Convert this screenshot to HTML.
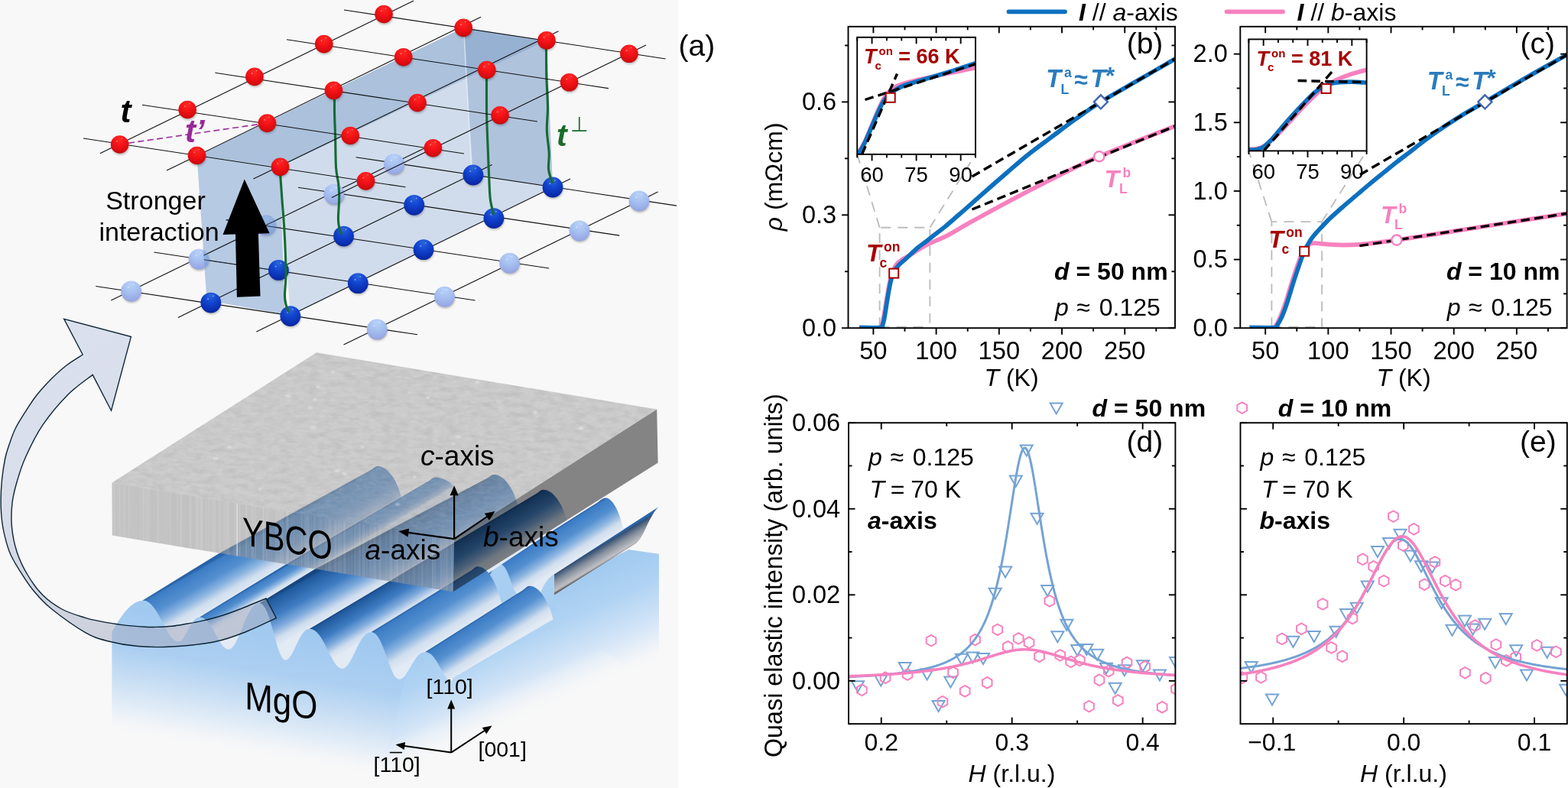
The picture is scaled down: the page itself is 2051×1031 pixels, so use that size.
<!DOCTYPE html>
<html lang="en"><head><meta charset="utf-8"><title>Figure</title>
<style>
html,body{margin:0;padding:0;background:#fff;}
body{width:2051px;height:1031px;overflow:hidden;}
svg{display:block;}
</style></head>
<body>
<svg width="2051" height="1031" viewBox="0 0 2051 1031">
<rect x="0" y="0" width="2051" height="1031" fill="#ffffff"/>
<rect x="0" y="0" width="887" height="1031" fill="#f8f8f8"/>
<defs><radialGradient id="gRed" cx="0.5" cy="0.28" r="0.8" fx="0.48" fy="0.2">
<stop offset="0" stop-color="#ff2a26"/><stop offset="0.45" stop-color="#f21216"/><stop offset="0.8" stop-color="#d60a0e"/><stop offset="1" stop-color="#b00509"/></radialGradient>
<radialGradient id="gBlue" cx="0.5" cy="0.25" r="0.85" fx="0.48" fy="0.15">
<stop offset="0" stop-color="#2a66de"/><stop offset="0.4" stop-color="#1244cf"/><stop offset="0.75" stop-color="#0a2eb0"/><stop offset="1" stop-color="#08208a"/></radialGradient>
<radialGradient id="gLBlue" cx="0.5" cy="0.25" r="0.85" fx="0.48" fy="0.15">
<stop offset="0" stop-color="#b9d2fa"/><stop offset="0.45" stop-color="#a6c0f0"/><stop offset="0.8" stop-color="#99aae6"/><stop offset="1" stop-color="#9099da"/></radialGradient>
<filter id="sh" x="-30%" y="-30%" width="160%" height="170%"><feGaussianBlur stdDeviation="1.6"/></filter>
<clipPath id="clipFront"><polygon points="257.5,203.5 366.5,218.3 372.5,411.5 270.5,393"/></clipPath>
</defs>
<g font-family='"Liberation Sans", Arial, sans-serif'>
<polygon points="366.5,218.3 714.9,52.9 723,245 379.8,413.6" fill="#d0dcec" />
<polygon points="257.5,203.5 366.5,218.3 714.9,52.9 606.2,36.4" fill="#abc1dc" />
<polygon points="606.2,36.4 714.9,52.9 723,245 618.9,229" fill="#6f93c0" opacity="0.33"/>
<line x1="607" y1="44.4" x2="616.4" y2="217" stroke="#e6edf6" stroke-width="1.4" opacity="0.8"/>
<line x1="125.3" y1="374.5" x2="546" y2="437.8" stroke="#111" stroke-width="1.1" />
<line x1="201.4" y1="330" x2="621.6" y2="393" stroke="#111" stroke-width="1.1" />
<line x1="295.7" y1="287.6" x2="718.2" y2="351" stroke="#111" stroke-width="1.1" />
<line x1="390" y1="245.2" x2="810.3" y2="308.1" stroke="#111" stroke-width="1.1" />
<line x1="465.6" y1="205.7" x2="885" y2="269.1" stroke="#111" stroke-width="1.1" />
<line x1="145.3" y1="393" x2="557" y2="193" stroke="#111" stroke-width="1.1" />
<line x1="233" y1="415.4" x2="643.6" y2="215.5" stroke="#111" stroke-width="1.1" />
<line x1="335.4" y1="434" x2="746" y2="234" stroke="#111" stroke-width="1.1" />
<line x1="449.5" y1="451" x2="860.6" y2="251.1" stroke="#111" stroke-width="1.1" />
<ellipse cx="172.4" cy="383.2" rx="12.73" ry="12.73" fill="#000" opacity="0.28" filter="url(#sh)"/>
<circle cx="171.6" cy="381" r="13.4" fill="url(#gLBlue)"/>
<circle cx="167.85" cy="376.18" r="0.94" fill="#fff" opacity="0.54"/>
<circle cx="174.55" cy="372.16" r="0.94" fill="#fff" opacity="0.45"/>
<ellipse cx="494" cy="433.1" rx="12.73" ry="12.73" fill="#000" opacity="0.28" filter="url(#sh)"/>
<circle cx="493.2" cy="430.9" r="13.4" fill="url(#gLBlue)"/>
<circle cx="489.45" cy="426.08" r="0.94" fill="#fff" opacity="0.54"/>
<circle cx="496.15" cy="422.06" r="0.94" fill="#fff" opacity="0.45"/>
<ellipse cx="260.9" cy="341.4" rx="12.73" ry="12.73" fill="#000" opacity="0.28" filter="url(#sh)"/>
<circle cx="260.1" cy="339.2" r="13.4" fill="url(#gLBlue)"/>
<circle cx="256.35" cy="334.38" r="0.94" fill="#fff" opacity="0.54"/>
<circle cx="263.05" cy="330.36" r="0.94" fill="#fff" opacity="0.45"/>
<ellipse cx="582.3" cy="390.4" rx="12.73" ry="12.73" fill="#000" opacity="0.28" filter="url(#sh)"/>
<circle cx="581.5" cy="388.2" r="13.4" fill="url(#gLBlue)"/>
<circle cx="577.75" cy="383.38" r="0.94" fill="#fff" opacity="0.54"/>
<circle cx="584.45" cy="379.36" r="0.94" fill="#fff" opacity="0.45"/>
<ellipse cx="348.7" cy="296.9" rx="12.73" ry="12.73" fill="#000" opacity="0.28" filter="url(#sh)"/>
<circle cx="347.9" cy="294.7" r="13.4" fill="url(#gLBlue)"/>
<circle cx="344.15" cy="289.88" r="0.94" fill="#fff" opacity="0.54"/>
<circle cx="350.85" cy="285.86" r="0.94" fill="#fff" opacity="0.45"/>
<ellipse cx="667.4" cy="346.4" rx="12.73" ry="12.73" fill="#000" opacity="0.28" filter="url(#sh)"/>
<circle cx="666.6" cy="344.2" r="13.4" fill="url(#gLBlue)"/>
<circle cx="662.85" cy="339.38" r="0.94" fill="#fff" opacity="0.54"/>
<circle cx="669.55" cy="335.36" r="0.94" fill="#fff" opacity="0.45"/>
<ellipse cx="437.7" cy="256.3" rx="12.73" ry="12.73" fill="#000" opacity="0.28" filter="url(#sh)"/>
<circle cx="436.9" cy="254.1" r="13.4" fill="url(#gLBlue)"/>
<circle cx="433.15" cy="249.28" r="0.94" fill="#fff" opacity="0.54"/>
<circle cx="439.85" cy="245.26" r="0.94" fill="#fff" opacity="0.45"/>
<ellipse cx="758.8" cy="304.2" rx="12.73" ry="12.73" fill="#000" opacity="0.28" filter="url(#sh)"/>
<circle cx="758" cy="302" r="13.4" fill="url(#gLBlue)"/>
<circle cx="754.25" cy="297.18" r="0.94" fill="#fff" opacity="0.54"/>
<circle cx="760.95" cy="293.16" r="0.94" fill="#fff" opacity="0.45"/>
<ellipse cx="516.3" cy="216.8" rx="12.73" ry="12.73" fill="#000" opacity="0.28" filter="url(#sh)"/>
<circle cx="515.5" cy="214.6" r="13.4" fill="url(#gLBlue)"/>
<circle cx="511.75" cy="209.78" r="0.94" fill="#fff" opacity="0.54"/>
<circle cx="518.45" cy="205.76" r="0.94" fill="#fff" opacity="0.45"/>
<ellipse cx="836.8" cy="265.2" rx="12.73" ry="12.73" fill="#000" opacity="0.28" filter="url(#sh)"/>
<circle cx="836" cy="263" r="13.4" fill="url(#gLBlue)"/>
<circle cx="832.25" cy="258.18" r="0.94" fill="#fff" opacity="0.54"/>
<circle cx="838.95" cy="254.16" r="0.94" fill="#fff" opacity="0.45"/>
<polygon points="257.5,203.5 366.5,218.3 372.5,411.5 270.5,393" fill="rgb(118,155,205)" opacity="0.5"/>
<g opacity="0.75" clip-path="url(#clipFront)"><line x1="125.3" y1="374.5" x2="546" y2="437.8" stroke="#111" stroke-width="1.1" />
<line x1="201.4" y1="330" x2="621.6" y2="393" stroke="#111" stroke-width="1.1" />
<line x1="295.7" y1="287.6" x2="718.2" y2="351" stroke="#111" stroke-width="1.1" />
<line x1="390" y1="245.2" x2="810.3" y2="308.1" stroke="#111" stroke-width="1.1" />
<line x1="465.6" y1="205.7" x2="885" y2="269.1" stroke="#111" stroke-width="1.1" />
<line x1="145.3" y1="393" x2="557" y2="193" stroke="#111" stroke-width="1.1" />
<line x1="233" y1="415.4" x2="643.6" y2="215.5" stroke="#111" stroke-width="1.1" />
<line x1="335.4" y1="434" x2="746" y2="234" stroke="#111" stroke-width="1.1" />
<line x1="449.5" y1="451" x2="860.6" y2="251.1" stroke="#111" stroke-width="1.1" /></g>
<ellipse cx="276.6" cy="398.3" rx="12.73" ry="12.73" fill="#000" opacity="0.28" filter="url(#sh)"/>
<circle cx="275.8" cy="396.1" r="13.4" fill="url(#gBlue)"/>
<circle cx="272.05" cy="391.28" r="0.94" fill="#fff" opacity="0.51"/>
<circle cx="278.75" cy="387.26" r="0.94" fill="#fff" opacity="0.42"/>
<ellipse cx="380.6" cy="415.8" rx="12.73" ry="12.73" fill="#000" opacity="0.28" filter="url(#sh)"/>
<circle cx="379.8" cy="413.6" r="13.4" fill="url(#gBlue)"/>
<circle cx="376.05" cy="408.78" r="0.94" fill="#fff" opacity="0.51"/>
<circle cx="382.75" cy="404.76" r="0.94" fill="#fff" opacity="0.42"/>
<ellipse cx="365.2" cy="355.6" rx="12.73" ry="12.73" fill="#000" opacity="0.28" filter="url(#sh)"/>
<circle cx="364.4" cy="353.4" r="13.4" fill="url(#gBlue)"/>
<circle cx="360.65" cy="348.58" r="0.94" fill="#fff" opacity="0.51"/>
<circle cx="367.35" cy="344.56" r="0.94" fill="#fff" opacity="0.42"/>
<ellipse cx="469.1" cy="372.9" rx="12.73" ry="12.73" fill="#000" opacity="0.28" filter="url(#sh)"/>
<circle cx="468.3" cy="370.7" r="13.4" fill="url(#gBlue)"/>
<circle cx="464.55" cy="365.88" r="0.94" fill="#fff" opacity="0.51"/>
<circle cx="471.25" cy="361.86" r="0.94" fill="#fff" opacity="0.42"/>
<ellipse cx="450.3" cy="311.3" rx="12.73" ry="12.73" fill="#000" opacity="0.28" filter="url(#sh)"/>
<circle cx="449.5" cy="309.1" r="13.4" fill="url(#gBlue)"/>
<circle cx="445.75" cy="304.28" r="0.94" fill="#fff" opacity="0.51"/>
<circle cx="452.45" cy="300.26" r="0.94" fill="#fff" opacity="0.42"/>
<ellipse cx="554.8" cy="328.9" rx="12.73" ry="12.73" fill="#000" opacity="0.28" filter="url(#sh)"/>
<circle cx="554" cy="326.7" r="13.4" fill="url(#gBlue)"/>
<circle cx="550.25" cy="321.88" r="0.94" fill="#fff" opacity="0.51"/>
<circle cx="556.95" cy="317.86" r="0.94" fill="#fff" opacity="0.42"/>
<ellipse cx="542.5" cy="270.5" rx="12.73" ry="12.73" fill="#000" opacity="0.28" filter="url(#sh)"/>
<circle cx="541.7" cy="268.3" r="13.4" fill="url(#gBlue)"/>
<circle cx="537.95" cy="263.48" r="0.94" fill="#fff" opacity="0.51"/>
<circle cx="544.65" cy="259.46" r="0.94" fill="#fff" opacity="0.42"/>
<ellipse cx="646.7" cy="287.8" rx="12.73" ry="12.73" fill="#000" opacity="0.28" filter="url(#sh)"/>
<circle cx="645.9" cy="285.6" r="13.4" fill="url(#gBlue)"/>
<circle cx="642.15" cy="280.78" r="0.94" fill="#fff" opacity="0.51"/>
<circle cx="648.85" cy="276.76" r="0.94" fill="#fff" opacity="0.42"/>
<ellipse cx="619.7" cy="231.2" rx="12.73" ry="12.73" fill="#000" opacity="0.28" filter="url(#sh)"/>
<circle cx="618.9" cy="229" r="13.4" fill="url(#gBlue)"/>
<circle cx="615.15" cy="224.18" r="0.94" fill="#fff" opacity="0.51"/>
<circle cx="621.85" cy="220.16" r="0.94" fill="#fff" opacity="0.42"/>
<ellipse cx="723.8" cy="247.2" rx="12.73" ry="12.73" fill="#000" opacity="0.28" filter="url(#sh)"/>
<circle cx="723" cy="245" r="13.4" fill="url(#gBlue)"/>
<circle cx="719.25" cy="240.18" r="0.94" fill="#fff" opacity="0.51"/>
<circle cx="725.95" cy="236.16" r="0.94" fill="#fff" opacity="0.42"/>
<polygon points="319.8,234.5 352.6,305.2 337.9,305.7 340.5,387.4 309.9,388.7 308,306.5 291.5,307" fill="#000" />
<path d="M366.72,229.76 C366.94,232.82 367.59,241.99 368.03,248.1 C368.47,254.21 368.73,258.14 369.34,266.43 C369.95,274.73 371,286.08 371.7,297.86 C372.4,309.65 373.18,326.24 373.53,337.15 C373.88,348.06 373.97,355.05 373.79,363.34 C373.62,371.64 372.44,381.02 372.48,386.91 C372.53,392.81 373.27,395.3 374.05,398.7 C374.84,402.11 376.67,405.9 377.2,407.34" fill="none" stroke="#166b33" stroke-width="3.1" stroke-linecap="round"/>
<path d="M437.5,130 C437.52,133.33 437.42,141.67 437.6,150 C437.78,158.33 438.28,168.45 438.6,180 C438.92,191.55 438.85,209.25 439.53,219.29 C440.21,229.33 441.98,233.69 442.68,240.24 C443.38,246.79 443.77,251.15 443.72,258.58 C443.68,266 442.46,278.44 442.41,284.77 C442.37,291.1 442.81,293.06 443.46,296.55 C444.12,300.05 445.86,304.19 446.34,305.72" fill="none" stroke="#166b33" stroke-width="3.1" stroke-linecap="round"/>
<path d="M636.5,103 C636.52,110.83 636.32,134.67 636.6,150 C636.88,165.33 637.63,180 638.2,195 C638.77,210 639.45,228.83 640,240 C640.55,251.17 640.58,255.33 641.5,262 C642.42,268.67 644.83,277 645.5,280" fill="none" stroke="#166b33" stroke-width="3.1" stroke-linecap="round"/>
<path d="M714.5,64 C714.55,70 714.47,87.33 714.8,100 C715.13,112.67 716.42,128.33 716.5,140 C716.58,151.67 715.02,160 715.3,170 C715.58,180 717.82,191.33 718.2,200 C718.58,208.67 716.88,215.5 717.6,222 C718.32,228.5 721.68,236.17 722.5,239" fill="none" stroke="#166b33" stroke-width="3.1" stroke-linecap="round"/>
<line x1="109" y1="181" x2="530.5" y2="244.8" stroke="#111" stroke-width="1.1" />
<line x1="186" y1="137.2" x2="606.9" y2="201" stroke="#111" stroke-width="1.1" />
<line x1="281.4" y1="95.3" x2="702.8" y2="159" stroke="#111" stroke-width="1.1" />
<line x1="375" y1="51.8" x2="795.9" y2="115.6" stroke="#111" stroke-width="1.1" />
<line x1="450" y1="13" x2="870.6" y2="77" stroke="#111" stroke-width="1.1" />
<line x1="130.8" y1="200.8" x2="541" y2="1" stroke="#111" stroke-width="1.1" />
<line x1="218" y1="223.1" x2="629" y2="22.3" stroke="#111" stroke-width="1.1" />
<line x1="331.5" y1="234" x2="730.5" y2="40.8" stroke="#111" stroke-width="1.1" />
<line x1="434" y1="258.4" x2="845" y2="59.1" stroke="#111" stroke-width="1.1" />
<line x1="168" y1="187.2" x2="340" y2="162.4" stroke="#9a2a9a" stroke-width="1.6" stroke-dasharray="8 4.5"/>
<ellipse cx="157.4" cy="191.2" rx="11.21" ry="11.21" fill="#000" opacity="0.28" filter="url(#sh)"/>
<circle cx="156.6" cy="189" r="11.8" fill="url(#gRed)"/>
<circle cx="153.3" cy="184.75" r="0.83" fill="#fff" opacity="0.51"/>
<circle cx="159.2" cy="181.21" r="0.83" fill="#fff" opacity="0.42"/>
<ellipse cx="258.3" cy="205.7" rx="11.21" ry="11.21" fill="#000" opacity="0.28" filter="url(#sh)"/>
<circle cx="257.5" cy="203.5" r="11.8" fill="url(#gRed)"/>
<circle cx="254.2" cy="199.25" r="0.83" fill="#fff" opacity="0.51"/>
<circle cx="260.1" cy="195.71" r="0.83" fill="#fff" opacity="0.42"/>
<ellipse cx="367.3" cy="220.5" rx="11.21" ry="11.21" fill="#000" opacity="0.28" filter="url(#sh)"/>
<circle cx="366.5" cy="218.3" r="11.8" fill="url(#gRed)"/>
<circle cx="363.2" cy="214.05" r="0.83" fill="#fff" opacity="0.51"/>
<circle cx="369.1" cy="210.51" r="0.83" fill="#fff" opacity="0.42"/>
<ellipse cx="479.3" cy="239.1" rx="11.21" ry="11.21" fill="#000" opacity="0.28" filter="url(#sh)"/>
<circle cx="478.5" cy="236.9" r="11.8" fill="url(#gRed)"/>
<circle cx="475.2" cy="232.65" r="0.83" fill="#fff" opacity="0.51"/>
<circle cx="481.1" cy="229.11" r="0.83" fill="#fff" opacity="0.42"/>
<ellipse cx="246" cy="145.7" rx="11.21" ry="11.21" fill="#000" opacity="0.28" filter="url(#sh)"/>
<circle cx="245.2" cy="143.5" r="11.8" fill="url(#gRed)"/>
<circle cx="241.9" cy="139.25" r="0.83" fill="#fff" opacity="0.51"/>
<circle cx="247.8" cy="135.71" r="0.83" fill="#fff" opacity="0.42"/>
<ellipse cx="350.2" cy="163.3" rx="11.21" ry="11.21" fill="#000" opacity="0.28" filter="url(#sh)"/>
<circle cx="349.4" cy="161.1" r="11.8" fill="url(#gRed)"/>
<circle cx="346.1" cy="156.85" r="0.83" fill="#fff" opacity="0.51"/>
<circle cx="352" cy="153.31" r="0.83" fill="#fff" opacity="0.42"/>
<ellipse cx="459" cy="179.7" rx="11.21" ry="11.21" fill="#000" opacity="0.28" filter="url(#sh)"/>
<circle cx="458.2" cy="177.5" r="11.8" fill="url(#gRed)"/>
<circle cx="454.9" cy="173.25" r="0.83" fill="#fff" opacity="0.51"/>
<circle cx="460.8" cy="169.71" r="0.83" fill="#fff" opacity="0.42"/>
<ellipse cx="567.2" cy="195.9" rx="11.21" ry="11.21" fill="#000" opacity="0.28" filter="url(#sh)"/>
<circle cx="566.4" cy="193.7" r="11.8" fill="url(#gRed)"/>
<circle cx="563.1" cy="189.45" r="0.83" fill="#fff" opacity="0.51"/>
<circle cx="569" cy="185.91" r="0.83" fill="#fff" opacity="0.42"/>
<ellipse cx="333.7" cy="102.6" rx="11.21" ry="11.21" fill="#000" opacity="0.28" filter="url(#sh)"/>
<circle cx="332.9" cy="100.4" r="11.8" fill="url(#gRed)"/>
<circle cx="329.6" cy="96.15" r="0.83" fill="#fff" opacity="0.51"/>
<circle cx="335.5" cy="92.61" r="0.83" fill="#fff" opacity="0.42"/>
<ellipse cx="437.2" cy="120.5" rx="11.21" ry="11.21" fill="#000" opacity="0.28" filter="url(#sh)"/>
<circle cx="436.4" cy="118.3" r="11.8" fill="url(#gRed)"/>
<circle cx="433.1" cy="114.05" r="0.83" fill="#fff" opacity="0.51"/>
<circle cx="439" cy="110.51" r="0.83" fill="#fff" opacity="0.42"/>
<ellipse cx="546.8" cy="136.7" rx="11.21" ry="11.21" fill="#000" opacity="0.28" filter="url(#sh)"/>
<circle cx="546" cy="134.5" r="11.8" fill="url(#gRed)"/>
<circle cx="542.7" cy="130.25" r="0.83" fill="#fff" opacity="0.51"/>
<circle cx="548.6" cy="126.71" r="0.83" fill="#fff" opacity="0.42"/>
<ellipse cx="654.8" cy="153" rx="11.21" ry="11.21" fill="#000" opacity="0.28" filter="url(#sh)"/>
<circle cx="654" cy="150.8" r="11.8" fill="url(#gRed)"/>
<circle cx="650.7" cy="146.55" r="0.83" fill="#fff" opacity="0.51"/>
<circle cx="656.6" cy="143.01" r="0.83" fill="#fff" opacity="0.42"/>
<ellipse cx="424.5" cy="59.8" rx="11.21" ry="11.21" fill="#000" opacity="0.28" filter="url(#sh)"/>
<circle cx="423.7" cy="57.6" r="11.8" fill="url(#gRed)"/>
<circle cx="420.4" cy="53.35" r="0.83" fill="#fff" opacity="0.51"/>
<circle cx="426.3" cy="49.81" r="0.83" fill="#fff" opacity="0.42"/>
<ellipse cx="528.5" cy="76.9" rx="11.21" ry="11.21" fill="#000" opacity="0.28" filter="url(#sh)"/>
<circle cx="527.7" cy="74.7" r="11.8" fill="url(#gRed)"/>
<circle cx="524.4" cy="70.45" r="0.83" fill="#fff" opacity="0.51"/>
<circle cx="530.3" cy="66.91" r="0.83" fill="#fff" opacity="0.42"/>
<ellipse cx="637.6" cy="93.7" rx="11.21" ry="11.21" fill="#000" opacity="0.28" filter="url(#sh)"/>
<circle cx="636.8" cy="91.5" r="11.8" fill="url(#gRed)"/>
<circle cx="633.5" cy="87.25" r="0.83" fill="#fff" opacity="0.51"/>
<circle cx="639.4" cy="83.71" r="0.83" fill="#fff" opacity="0.42"/>
<ellipse cx="745.4" cy="110" rx="11.21" ry="11.21" fill="#000" opacity="0.28" filter="url(#sh)"/>
<circle cx="744.6" cy="107.8" r="11.8" fill="url(#gRed)"/>
<circle cx="741.3" cy="103.55" r="0.83" fill="#fff" opacity="0.51"/>
<circle cx="747.2" cy="100.01" r="0.83" fill="#fff" opacity="0.42"/>
<ellipse cx="502.8" cy="20.7" rx="11.21" ry="11.21" fill="#000" opacity="0.28" filter="url(#sh)"/>
<circle cx="502" cy="18.5" r="11.8" fill="url(#gRed)"/>
<circle cx="498.7" cy="14.25" r="0.83" fill="#fff" opacity="0.51"/>
<circle cx="504.6" cy="10.71" r="0.83" fill="#fff" opacity="0.42"/>
<ellipse cx="607" cy="38.6" rx="11.21" ry="11.21" fill="#000" opacity="0.28" filter="url(#sh)"/>
<circle cx="606.2" cy="36.4" r="11.8" fill="url(#gRed)"/>
<circle cx="602.9" cy="32.15" r="0.83" fill="#fff" opacity="0.51"/>
<circle cx="608.8" cy="28.61" r="0.83" fill="#fff" opacity="0.42"/>
<ellipse cx="715.7" cy="55.1" rx="11.21" ry="11.21" fill="#000" opacity="0.28" filter="url(#sh)"/>
<circle cx="714.9" cy="52.9" r="11.8" fill="url(#gRed)"/>
<circle cx="711.6" cy="48.65" r="0.83" fill="#fff" opacity="0.51"/>
<circle cx="717.5" cy="45.11" r="0.83" fill="#fff" opacity="0.42"/>
<ellipse cx="823.7" cy="72.5" rx="11.21" ry="11.21" fill="#000" opacity="0.28" filter="url(#sh)"/>
<circle cx="822.9" cy="70.3" r="11.8" fill="url(#gRed)"/>
<circle cx="819.6" cy="66.05" r="0.83" fill="#fff" opacity="0.51"/>
<circle cx="825.5" cy="62.51" r="0.83" fill="#fff" opacity="0.42"/>
<text x="157.5" y="160.2" font-size="42" font-weight="bold" font-style="italic">t</text>
<text x="242" y="186.3" font-size="42" font-weight="bold" font-style="italic" fill="#9a2a9a">t’</text>
<text x="728" y="191" font-size="41" font-weight="bold" font-style="italic" fill="#1a6b2b">t</text>
<text x="745.5" y="171.8" font-size="27" fill="#1a6b2b">⊥</text>
<text x="203.5" y="274.4" font-size="34.1" text-anchor="middle">Stronger</text>
<text x="208" y="315" font-size="34.1" text-anchor="middle">interaction</text>
<text x="887.5" y="73" font-size="39">(a)</text>
<defs><linearGradient id="gBody" gradientUnits="userSpaceOnUse" x1="724.9" y1="772" x2="781.88" y2="899.96"><stop offset="0" stop-color="rgb(163,203,240)"/><stop offset="0.3" stop-color="rgb(176,211,243)"/><stop offset="0.65" stop-color="rgb(212,229,247)"/><stop offset="1" stop-color="rgb(248,248,248)" stop-opacity="0"/></linearGradient>
<linearGradient id="gRib" gradientUnits="userSpaceOnUse" x1="790" y1="707" x2="803.5" y2="729.5"><stop offset="0" stop-color="rgb(40,104,176)"/><stop offset="0.1" stop-color="rgb(44,100,168)"/><stop offset="0.17" stop-color="rgb(52,80,116)"/><stop offset="0.5" stop-color="rgb(132,142,156)"/><stop offset="0.88" stop-color="rgb(192,192,196)"/><stop offset="0.95" stop-color="rgb(165,165,168)"/><stop offset="1" stop-color="rgb(100,100,102)"/></linearGradient>
<linearGradient id="gR1" gradientUnits="userSpaceOnUse" x1="654" y1="738" x2="679.08" y2="777.75"><stop offset="0" stop-color="rgb(40,98,168)"/><stop offset="0.05" stop-color="rgb(60,124,196)"/><stop offset="0.38" stop-color="rgb(84,144,208)"/><stop offset="0.6" stop-color="rgb(138,180,224)"/><stop offset="0.8" stop-color="rgb(208,222,238)"/><stop offset="1" stop-color="rgb(226,234,244)"/></linearGradient>
<linearGradient id="gB0" gradientUnits="userSpaceOnUse" x1="186.7" y1="785.4" x2="214.55" y2="834.18"><stop offset="0" stop-color="rgb(40,98,168)"/><stop offset="0.05" stop-color="rgb(60,124,196)"/><stop offset="0.38" stop-color="rgb(84,144,208)"/><stop offset="0.6" stop-color="rgb(138,180,224)"/><stop offset="0.8" stop-color="rgb(208,222,238)"/><stop offset="1" stop-color="rgb(226,234,244)"/></linearGradient>
<linearGradient id="gT0" gradientUnits="userSpaceOnUse" x1="186.7" y1="785.4" x2="214.55" y2="834.18"><stop offset="0" stop-color="rgb(70,110,160)" stop-opacity="0.05"/><stop offset="0.3" stop-color="rgb(80,118,165)" stop-opacity="0.14"/><stop offset="0.6" stop-color="rgb(88,124,170)" stop-opacity="0.36"/><stop offset="0.85" stop-color="rgb(95,130,175)" stop-opacity="0.34"/><stop offset="1" stop-color="rgb(125,150,185)" stop-opacity="0.06"/></linearGradient>
<linearGradient id="gB1" gradientUnits="userSpaceOnUse" x1="261.1" y1="807.6" x2="273.46" y2="828.37"><stop offset="0" stop-color="rgb(40,98,168)"/><stop offset="0.05" stop-color="rgb(60,124,196)"/><stop offset="0.38" stop-color="rgb(84,144,208)"/><stop offset="0.6" stop-color="rgb(138,180,224)"/><stop offset="0.8" stop-color="rgb(208,222,238)"/><stop offset="1" stop-color="rgb(226,234,244)"/></linearGradient>
<linearGradient id="gT1" gradientUnits="userSpaceOnUse" x1="261.1" y1="807.6" x2="273.46" y2="828.37"><stop offset="0" stop-color="rgb(70,110,160)" stop-opacity="0.05"/><stop offset="0.3" stop-color="rgb(80,118,165)" stop-opacity="0.14"/><stop offset="0.6" stop-color="rgb(88,124,170)" stop-opacity="0.36"/><stop offset="0.85" stop-color="rgb(95,130,175)" stop-opacity="0.34"/><stop offset="1" stop-color="rgb(125,150,185)" stop-opacity="0.06"/></linearGradient>
<linearGradient id="gB2" gradientUnits="userSpaceOnUse" x1="339.3" y1="789.2" x2="368.62" y2="842.61"><stop offset="0" stop-color="rgb(22,70,128)"/><stop offset="0.06" stop-color="rgb(33,90,158)"/><stop offset="0.4" stop-color="rgb(62,124,194)"/><stop offset="0.64" stop-color="rgb(126,170,220)"/><stop offset="0.84" stop-color="rgb(206,221,238)"/><stop offset="1" stop-color="rgb(226,234,244)"/></linearGradient>
<linearGradient id="gT2" gradientUnits="userSpaceOnUse" x1="339.3" y1="789.2" x2="368.62" y2="842.61"><stop offset="0" stop-color="rgb(70,110,160)" stop-opacity="0.05"/><stop offset="0.3" stop-color="rgb(80,118,165)" stop-opacity="0.14"/><stop offset="0.6" stop-color="rgb(88,124,170)" stop-opacity="0.36"/><stop offset="0.85" stop-color="rgb(95,130,175)" stop-opacity="0.34"/><stop offset="1" stop-color="rgb(125,150,185)" stop-opacity="0.06"/></linearGradient>
<linearGradient id="gB3" gradientUnits="userSpaceOnUse" x1="404.9" y1="822.7" x2="430.49" y2="865.65"><stop offset="0" stop-color="rgb(22,70,128)"/><stop offset="0.06" stop-color="rgb(33,90,158)"/><stop offset="0.4" stop-color="rgb(62,124,194)"/><stop offset="0.64" stop-color="rgb(126,170,220)"/><stop offset="0.84" stop-color="rgb(206,221,238)"/><stop offset="1" stop-color="rgb(226,234,244)"/></linearGradient>
<linearGradient id="gT3" gradientUnits="userSpaceOnUse" x1="404.9" y1="822.7" x2="430.49" y2="865.65"><stop offset="0" stop-color="rgb(70,110,160)" stop-opacity="0.05"/><stop offset="0.3" stop-color="rgb(80,118,165)" stop-opacity="0.14"/><stop offset="0.6" stop-color="rgb(88,124,170)" stop-opacity="0.36"/><stop offset="0.85" stop-color="rgb(95,130,175)" stop-opacity="0.34"/><stop offset="1" stop-color="rgb(125,150,185)" stop-opacity="0.06"/></linearGradient>
<linearGradient id="gB4" gradientUnits="userSpaceOnUse" x1="485.6" y1="827" x2="516.64" y2="877.38"><stop offset="0" stop-color="rgb(40,98,168)"/><stop offset="0.05" stop-color="rgb(60,124,196)"/><stop offset="0.38" stop-color="rgb(84,144,208)"/><stop offset="0.6" stop-color="rgb(138,180,224)"/><stop offset="0.8" stop-color="rgb(208,222,238)"/><stop offset="1" stop-color="rgb(226,234,244)"/></linearGradient>
<linearGradient id="gB5" gradientUnits="userSpaceOnUse" x1="556.2" y1="853" x2="581.93" y2="893.64"><stop offset="0" stop-color="rgb(40,98,168)"/><stop offset="0.05" stop-color="rgb(60,124,196)"/><stop offset="0.38" stop-color="rgb(84,144,208)"/><stop offset="0.6" stop-color="rgb(138,180,224)"/><stop offset="0.8" stop-color="rgb(208,222,238)"/><stop offset="1" stop-color="rgb(226,234,244)"/></linearGradient>
<linearGradient id="gFront" gradientUnits="userSpaceOnUse" x1="186.7" y1="790" x2="157.8" y2="962.6"><stop offset="0" stop-color="rgb(160,201,240)"/><stop offset="0.35" stop-color="rgb(172,207,241)"/><stop offset="0.57" stop-color="rgb(200,222,244)"/><stop offset="0.86" stop-color="rgb(238,243,249)"/><stop offset="1" stop-color="rgb(248,248,248)" stop-opacity="0"/></linearGradient>
<clipPath id="cSeamL"><polygon points="0,700 575,700 498,1031 0,1031"/></clipPath>
<clipPath id="cSeamR"><polygon points="573.5,700 900,700 900,1031 496.5,1031"/></clipPath>
<filter id="fNoise" x="0" y="0" width="100%" height="100%" color-interpolation-filters="sRGB">
<feTurbulence type="fractalNoise" baseFrequency="0.12 0.3" numOctaves="3" seed="7" result="n"/>
<feColorMatrix in="n" type="matrix" values="0 0 0 0 1  0 0 0 0 1  0 0 0 0 1  1.6 1.6 0 0 -1.25" result="w"/>
<feComposite in="w" in2="SourceGraphic" operator="in"/></filter>
<filter id="fNoiseD" x="0" y="0" width="100%" height="100%" color-interpolation-filters="sRGB">
<feTurbulence type="fractalNoise" baseFrequency="0.06 0.15" numOctaves="3" seed="23" result="n"/>
<feColorMatrix in="n" type="matrix" values="0 0 0 0 0  0 0 0 0 0  0 0 0 0 0  1.5 1.5 0 0 -1.25" result="w"/>
<feComposite in="w" in2="SourceGraphic" operator="in"/></filter>
<filter id="fStripe" x="0" y="0" width="100%" height="100%" color-interpolation-filters="sRGB">
<feTurbulence type="fractalNoise" baseFrequency="0.45 0.0008" numOctaves="2" seed="11" result="n"/>
<feColorMatrix in="n" type="matrix" values="0 0 0 0 1  0 0 0 0 1  0 0 0 0 1  2.2 0 0 0 -0.85" result="w"/>
<feComposite in="w" in2="SourceGraphic" operator="in"/></filter>
<filter id="fSp" x="-100%" y="-100%" width="300%" height="300%"><feGaussianBlur stdDeviation="1.1"/></filter>
<clipPath id="cSlab"><polygon points="146.5,631.4 414,461.3 859.2,535.4 594,705.3 592.6,774.2 146.8,700.6"/></clipPath>
<linearGradient id="gArr" gradientUnits="userSpaceOnUse" x1="130" y1="450" x2="350" y2="800"><stop offset="0" stop-color="rgb(190,202,226)"/><stop offset="0.3" stop-color="rgb(186,196,220)"/><stop offset="0.6" stop-color="rgb(172,180,202)"/><stop offset="1" stop-color="rgb(158,165,186)"/></linearGradient></defs>
<polygon points="592.9,886.7 724.9,770 822.2,719 861.8,724.8 861.8,900 728.3,810" fill="url(#gBody)"/>
<polygon points="186.7,790 300,722 592,775 640,760 700,790 600,890 200,850" fill="rgb(226,234,244)"/>
<path d="M724.9,751.2 L861.8,663 C856,668 852,676 847,686 C842,697 838,706 832.1,710.8 L724.9,778.4 Z" fill="url(#gRib)"/>
<path d="M637.09,748.67 L782.35,657 Q787.5,651.2 793.5,651.4 C802.5,653.6 810.6,670.7 815.6,692.7 L724.9,751.2 L706.8,779 L676,800 L652,790 Z" fill="url(#gR1)"/>
<line x1="640" y1="747.5" x2="784.5" y2="653.1" stroke="#f4f6fa" stroke-width="1.2" opacity="0.9"/>
<path d="M724.9,751.2 C716,756 711,766 706.8,776 L706.8,800 L724.9,800 Z" fill="rgb(168,206,241)"/>
<path d="M639.2,755.3 C645,744 649,738.5 654,738 C660,738.5 664,748 668,760 C671,769 673,774 676.5,777 L676.5,800 L652.3,800 L645,775 Z" fill="rgb(168,206,241)"/>
<path d="M186.7,785.4 L285.8,724.5 L484.68,615.25 C489.89,612.28 490.1,609.9 495.1,610.1 C505.1,610.5 518.1,624.15 525.1,650.55 L372.1,739.5 L261.1,807.6 L233.4,844.6 Z" fill="url(#gB0)"/>
<path d="M261.1,807.6 L372.1,739.5 L560.09,629.74 C565.24,626.67 565.4,624.2 570.4,624.4 C580.4,624.8 593.4,631.62 600.4,645.89 L412,744.5 L339.3,789.2 L299,854.7 Z" fill="url(#gB1)"/>
<path d="M339.3,789.2 L412,744.5 L636.68,625.97 C641.94,623.09 642.2,620.8 647.2,621 C657.2,621.4 670.2,634.69 677.2,660.46 L404.9,822.7 L373.4,868.6 Z" fill="url(#gB2)"/>
<path d="M404.9,822.7 L701.39,646.04 C706.55,642.97 706.7,640.5 711.7,640.7 C721.7,641.1 734.7,654.88 741.7,681.5 L638,750.5 L626,740.5 L485.6,827 L447.8,879.9 Z" fill="url(#gB3)"/>
<path d="M485.6,827 L615.78,746.79 C620.89,743.65 621,741.1 626,741.3 C636,741.7 649,758.25 656,789.81 L556.2,853 L522.2,893.8 Z" fill="url(#gB4)"/>
<path d="M556.2,853 L683.46,772.42 C688.53,769.21 688.6,766.6 693.6,766.8 C703.6,767.2 716.6,782 723.6,810.44 L592.9,886.7 L591.5,896.3 Z" fill="url(#gB5)"/>
<path d="M146.4,1031 L146.4,827 C155,812 168,787.5 186.7,785.4 C207.72,785.4 217.06,839.6 233.4,839.6 C243.09,839.6 248.64,807.6 261.1,807.6 C278.16,807.6 285.74,849.7 299,849.7 C313.11,849.7 321.17,789.2 339.3,789.2 C354.64,789.2 361.46,863.6 373.4,863.6 C384.42,863.6 390.72,822.7 404.9,822.7 C424.2,822.7 432.79,874.9 447.8,874.9 C461.03,874.9 468.59,827 485.6,827 C502.07,827 509.39,888.8 522.2,888.8 C534.1,888.8 540.9,853 556.2,853 C572.09,853 579.14,891.3 591.5,891.3 L592.9,886.7 L728.3,807.7 L861.8,724.8 L861.8,1031 Z" fill="url(#gFront)" clip-path="url(#cSeamL)"/>
<path d="M146.4,1031 L146.4,827 C155,812 168,787.5 186.7,785.4 C207.72,785.4 217.06,839.6 233.4,839.6 C243.09,839.6 248.64,807.6 261.1,807.6 C278.16,807.6 285.74,849.7 299,849.7 C313.11,849.7 321.17,789.2 339.3,789.2 C354.64,789.2 361.46,863.6 373.4,863.6 C384.42,863.6 390.72,822.7 404.9,822.7 C424.2,822.7 432.79,874.9 447.8,874.9 C461.03,874.9 468.59,827 485.6,827 C502.07,827 509.39,888.8 522.2,888.8 C534.1,888.8 540.9,853 556.2,853 C572.09,853 579.14,891.3 591.5,891.3 L592.9,886.7 L728.3,807.7 L861.8,724.8 L861.8,1031 Z" fill="url(#gBody)" clip-path="url(#cSeamR)"/>
<polygon points="594,705.3 859.2,535.4 860.6,605.5 592.6,774.2" fill="rgb(8,8,8)" opacity="0.484"/>
<polygon points="146.5,631.4 414,461.3 859.2,535.4 594,705.3" fill="rgb(165,165,165)" opacity="0.56"/>
<polygon points="146.5,631.4 414,461.3 859.2,535.4 594,705.3" fill="#fff" filter="url(#fNoise)" opacity="0.10"/>
<polygon points="146.5,631.4 414,461.3 859.2,535.4 594,705.3" fill="#000" filter="url(#fNoiseD)" opacity="0.05"/>
<g filter="url(#fSp)" fill="#fff" opacity="0.45"><ellipse cx="435.2" cy="486.6" rx="2.2" ry="1.4"/><ellipse cx="415.7" cy="506" rx="3" ry="1.4"/><ellipse cx="376.7" cy="517.8" rx="3.8" ry="1.4"/><ellipse cx="411.8" cy="522.6" rx="2.2" ry="1.4"/><ellipse cx="406" cy="533.4" rx="3" ry="1.4"/><ellipse cx="599" cy="571.4" rx="3.8" ry="1.4"/><ellipse cx="593" cy="581" rx="2.2" ry="1.4"/><ellipse cx="450.8" cy="620" rx="3" ry="1.4"/><ellipse cx="441" cy="616" rx="3.8" ry="1.4"/><ellipse cx="542.4" cy="624" rx="2.2" ry="1.4"/><ellipse cx="624.3" cy="500.2" rx="3" ry="1.4"/><ellipse cx="409.8" cy="559.7" rx="3.8" ry="1.4"/><ellipse cx="474.2" cy="585" rx="2.2" ry="1.4"/><ellipse cx="300" cy="585" rx="3" ry="1.4"/><ellipse cx="282" cy="600" rx="3.8" ry="1.4"/><ellipse cx="560" cy="520" rx="2.2" ry="1.4"/><ellipse cx="700" cy="540" rx="3" ry="1.4"/><ellipse cx="760" cy="560" rx="3.8" ry="1.4"/><ellipse cx="340" cy="640" rx="2.2" ry="1.4"/><ellipse cx="520" cy="660" rx="3" ry="1.4"/></g>
<polygon points="146.5,631.4 594,705.3 592.6,774.2 146.8,700.6" fill="rgb(150,150,150)" opacity="0.56"/>
<line x1="310.2" y1="659" x2="310.2" y2="727.5" stroke="#e8e8e8" stroke-width="1.6" opacity="0.8"/>
<g clip-path="url(#cSlab)"><path d="M186.7,785.4 L285.8,724.5 L484.68,615.25 C489.89,612.28 490.1,609.9 495.1,610.1 C505.1,610.5 518.1,624.15 525.1,650.55 L372.1,739.5 L261.1,807.6 L233.4,844.6 Z" fill="url(#gT0)"/><path d="M261.1,807.6 L372.1,739.5 L560.09,629.74 C565.24,626.67 565.4,624.2 570.4,624.4 C580.4,624.8 593.4,631.62 600.4,645.89 L412,744.5 L339.3,789.2 L299,854.7 Z" fill="url(#gT1)"/><path d="M339.3,789.2 L412,744.5 L636.68,625.97 C641.94,623.09 642.2,620.8 647.2,621 C657.2,621.4 670.2,634.69 677.2,660.46 L404.9,822.7 L373.4,868.6 Z" fill="url(#gT2)"/><path d="M404.9,822.7 L701.39,646.04 C706.55,642.97 706.7,640.5 711.7,640.7 C721.7,641.1 734.7,654.88 741.7,681.5 L638,750.5 L626,740.5 L485.6,827 L447.8,879.9 Z" fill="url(#gT3)"/></g>
<polygon points="146.5,631.4 594,705.3 592.6,774.2 146.8,700.6" fill="#fff" filter="url(#fStripe)" opacity="0.16"/>
<path d="M108.2,464 L83.7,417.4 L171.4,440.6 L145.5,537.2 L121.2,490.4  C115.87,494.67 100.1,505.03 89.2,516 C78.3,526.97 65.08,542.53 55.8,556.2 C46.52,569.87 39.08,585.73 33.5,598 C27.92,610.27 25.22,619.8 22.3,629.8 C19.38,639.8 17.13,647.97 16,658 C14.87,668.03 14.45,679.22 15.5,690 C16.55,700.78 18.88,712.37 22.3,722.7 C25.72,733.03 30.42,742.7 36,752 C41.58,761.3 48.13,770.92 55.8,778.5 C63.47,786.08 72.7,792.53 82,797.5 C91.3,802.47 103.6,805.78 111.6,808.3 C119.6,810.82 121.93,811.05 130,812.6 C138.07,814.15 150,816.33 160,817.6 C170,818.87 182.8,819.73 190,820.2 C197.2,820.67 197.37,820.55 203.2,820.4 C209.03,820.25 217.97,820.03 225,819.3 C232.03,818.57 238.88,817.15 245.4,816 C251.92,814.85 256.67,814.15 264.1,812.4 C271.53,810.65 281.95,807.98 290,805.5 C298.05,803.02 302.73,801.25 312.4,797.5 C322.07,793.75 342.07,785.42 348,783 L361.4,808.6  C354.83,811.58 335.28,821.35 322,826.5 C308.72,831.65 297.8,836.25 281.7,839.5 C265.6,842.75 242.35,845 225.4,846 C208.45,847 194.1,846.72 180,845.5 C165.9,844.28 152.2,841.68 140.8,838.7 C129.4,835.72 123.92,834.67 111.6,827.6 C99.28,820.53 78.17,805.4 66.9,796.3 C55.63,787.2 50.32,780.43 44,773 C37.68,765.57 33.83,759.2 29,751.7 C24.17,744.2 18.35,734.68 15,728 C11.65,721.32 10.9,718.77 8.9,711.6 C6.9,704.43 4.3,694.3 3,685 C1.7,675.7 1.17,665.47 1.1,655.8 C1.03,646.13 1.67,636.3 2.6,627 C3.53,617.7 5.2,607.33 6.7,600 C8.2,592.67 9.38,589.5 11.6,583 C13.82,576.5 16.35,568.45 20,561 C23.65,553.55 28.83,545.63 33.5,538.3 C38.17,530.97 42.43,524.05 48,517 C53.57,509.95 60.4,502.5 66.9,496 C73.4,489.5 80.12,483.33 87,478 C93.88,472.67 104.67,466.33 108.2,464 Z" fill="url(#gArr)" fill-opacity="0.52" stroke="#0c2536" stroke-width="1.4" stroke-linejoin="miter"/>
<line x1="594.1" y1="705.2" x2="594.1" y2="646.3" stroke="#000" stroke-width="2.2" /><polygon points="594.1,635.3 599.6,648.3 588.6,648.3" fill="#000" />
<line x1="594.1" y1="705.2" x2="638.49" y2="675.16" stroke="#000" stroke-width="2.2" /><polygon points="647.6,669 639.92,680.84 633.75,671.73" fill="#000" />
<line x1="594.1" y1="705.2" x2="532.4" y2="696.7" stroke="#000" stroke-width="2.2" /><polygon points="521.5,695.2 535.13,691.53 533.63,702.42" fill="#000" />
<text x="550" y="609.4" font-size="37"><tspan font-style="italic">c</tspan>-axis</text>
<text x="632" y="715.2" font-size="37"><tspan font-style="italic">b</tspan>-axis</text>
<text x="477.5" y="732.4" font-size="37"><tspan font-style="italic">a</tspan>-axis</text>
<line x1="590.2" y1="984.6" x2="590.2" y2="925.5" stroke="#000" stroke-width="2" /><polygon points="590.2,915.5 595.2,927.5 585.2,927.5" fill="#000" />
<line x1="590.2" y1="984.6" x2="635.15" y2="955" stroke="#000" stroke-width="2" /><polygon points="643.5,949.5 636.23,960.28 630.73,951.92" fill="#000" />
<line x1="590.2" y1="984.6" x2="527.4" y2="975.7" stroke="#000" stroke-width="2" /><polygon points="517.5,974.3 530.08,971.03 528.68,980.93" fill="#000" />
<text x="557.5" y="907.6" font-size="28.5">[110]</text>
<text x="625.5" y="989.5" font-size="28.5">[001]</text>
<text x="488.5" y="1009.5" font-size="28.5">[110]</text>
<line x1="509.8" y1="984.6" x2="526" y2="984.6" stroke="#000" stroke-width="1.6" />
<text transform="matrix(0.80,0.138,0,1,317,712.7)" font-size="52">YBCO</text>
<text transform="matrix(0.86,0.13,0,1,320.3,927.5)" font-size="51">MgO</text>
</g>
<g font-family='"Liberation Sans", Arial, sans-serif' font-size="32">
<line x1="1319.5" y1="15.3" x2="1393" y2="15.3" stroke="#0d70bf" stroke-width="5.7" stroke-linecap="round"/>
<text x="1411" y="26.8" font-size="32"><tspan font-weight="bold" font-style="italic">I</tspan> // <tspan font-style="italic">a</tspan>-axis</text>
<line x1="1604.5" y1="15.3" x2="1678" y2="15.3" stroke="#f781bf" stroke-width="5.7" stroke-linecap="round"/>
<text x="1696.6" y="26.8" font-size="32"><tspan font-weight="bold" font-style="italic">I</tspan> // <tspan font-style="italic">b</tspan>-axis</text>
<polygon points="1373.7,527.6 1389.7,527.6 1381.7,541.6" fill="none" stroke="#74a3d4" stroke-width="2" stroke-linejoin="miter"/>
<text x="1428.6" y="544.6" font-size="32" font-weight="bold"><tspan font-style="italic">d</tspan> = 50 nm</text>
<polygon points="1624.7,526.3 1631.02,529.95 1631.02,537.25 1624.7,540.9 1618.38,537.25 1618.38,529.95" fill="none" stroke="#f781bf" stroke-width="2" stroke-linejoin="miter"/>
<text x="1671.7" y="544.6" font-size="32" font-weight="bold"><tspan font-style="italic">d</tspan> = 10 nm</text>
<clipPath id="clipb"><rect x="1109.5" y="34.8" width="427.5" height="394.4"/></clipPath>
<clipPath id="clipc"><rect x="1622.3" y="34.8" width="427.3" height="394.4"/></clipPath>
<clipPath id="clipd"><rect x="1110" y="553.2" width="427.4" height="393.9"/></clipPath>
<clipPath id="clipe"><rect x="1622.5" y="553.2" width="427.3" height="393.9"/></clipPath>
<clipPath id="clipib"><rect x="1121.2" y="48.8" width="154.8" height="153.1"/></clipPath>
<clipPath id="clipic"><rect x="1633.4" y="51.4" width="154.2" height="146"/></clipPath>
<g clip-path="url(#clipb)">
<path d="M1150.61,428.2 V297.8 H1216.38 V428.2" fill="none" stroke="#bdbdbd" stroke-width="1.9" stroke-dasharray="13 9"/>
<line x1="1150.61" y1="427.7" x2="1216.38" y2="427.7" stroke="#bdbdbd" stroke-width="1.9" stroke-dasharray="13 9"/>
<line x1="1150.61" y1="297.8" x2="1121.2" y2="201.9" stroke="#bdbdbd" stroke-width="1.9" stroke-dasharray="13 9"/>
<line x1="1216.38" y1="297.8" x2="1276" y2="201.9" stroke="#bdbdbd" stroke-width="1.9" stroke-dasharray="13 9"/>
<path d="M1124,428.6 C1128.33,428.6 1145.08,429.28 1150,428.6 C1154.92,427.92 1152.5,426.93 1153.5,424.5 C1154.5,422.07 1154.92,419.75 1156,414 C1157.08,408.25 1158.67,397.67 1160,390 C1161.33,382.33 1162.67,374 1164,368 C1165.33,362 1166.5,357.75 1168,354 C1169.5,350.25 1171,347.92 1173,345.5 C1175,343.08 1177.17,341.42 1180,339.5 C1182.83,337.58 1186.67,336 1190,334 C1193.33,332 1195.67,330.08 1200,327.5 C1204.33,324.92 1209.93,321.5 1216,318.5 C1222.07,315.5 1230.23,312.55 1236.4,309.5 C1242.57,306.45 1247.43,303.37 1253,300.2 C1258.57,297.03 1261.67,295.02 1269.8,290.5 C1277.93,285.98 1289.18,279.88 1301.8,273.1 C1314.42,266.32 1329.13,258.28 1345.5,249.8 C1361.87,241.32 1384.62,229.72 1400,222.2 C1415.38,214.68 1422.8,211.15 1437.8,204.7 C1452.8,198.25 1473.37,190.15 1490,183.5 C1506.63,176.85 1529.67,167.92 1537.6,164.8" fill="none" stroke="#f781bf" stroke-width="5.7" stroke-linejoin="round"/>
<path d="M1124,428.6 C1128.58,428.6 1146.42,429.2 1151.5,428.6 C1156.58,428 1153.58,427.27 1154.5,425 C1155.42,422.73 1155.92,420.83 1157,415 C1158.08,409.17 1159.67,397.75 1161,390 C1162.33,382.25 1163.67,374.12 1165,368.5 C1166.33,362.88 1167.27,359.87 1169,356.3 C1170.73,352.73 1172.65,350.15 1175.4,347.1 C1178.15,344.05 1181.4,341.77 1185.5,338 C1189.6,334.23 1195.58,328.25 1200,324.5 C1204.42,320.75 1208.12,318.5 1212,315.5 C1215.88,312.5 1219.23,309.68 1223.3,306.5 C1227.37,303.32 1231.45,300.48 1236.4,296.4 C1241.35,292.32 1247.43,286.85 1253,282 C1258.57,277.15 1262.88,273.38 1269.8,267.3 C1276.72,261.22 1286.73,252.3 1294.5,245.5 C1302.27,238.7 1307.9,233.78 1316.4,226.5 C1324.9,219.22 1335.82,209.55 1345.5,201.8 C1355.18,194.05 1364.37,187.58 1374.5,180 C1384.63,172.42 1395.4,164.08 1406.3,156.3 C1417.2,148.52 1425.95,141.97 1439.9,133.3 C1453.85,124.63 1473.72,113.72 1490,104.3 C1506.28,94.88 1529.67,81.38 1537.6,76.8" fill="none" stroke="#0d70bf" stroke-width="5.7" stroke-linejoin="round"/>
<line x1="1271.5" y1="231" x2="1537.6" y2="76.8" stroke="#000" stroke-width="3.4" stroke-dasharray="11.6 6.2"/>
<line x1="1271.5" y1="274" x2="1537.6" y2="164.8" stroke="#000" stroke-width="3.4" stroke-dasharray="11.6 6.2"/>
</g>
<rect x="1163.2" y="351.6" width="12" height="12" fill="#fff" stroke="#a60000" stroke-width="2"/>
<polygon points="1439.9,124.3 1448.9,133.3 1439.9,142.3 1430.9,133.3" fill="#fff" stroke="#4466b0" stroke-width="2.4"/>
<circle cx="1437.8" cy="204.7" r="6.6" fill="#fff" stroke="#f781bf" stroke-width="2.4"/>
<rect x="1109.5" y="34.8" width="427.5" height="394.4" fill="none" stroke="#000" stroke-width="1.9"/>
<line x1="1142.38" y1="429.2" x2="1142.38" y2="437.7" stroke="#000" stroke-width="1.9" />
<line x1="1142.38" y1="34.8" x2="1142.38" y2="43.3" stroke="#000" stroke-width="1.9" />
<line x1="1224.6" y1="429.2" x2="1224.6" y2="437.7" stroke="#000" stroke-width="1.9" />
<line x1="1224.6" y1="34.8" x2="1224.6" y2="43.3" stroke="#000" stroke-width="1.9" />
<line x1="1306.81" y1="429.2" x2="1306.81" y2="437.7" stroke="#000" stroke-width="1.9" />
<line x1="1306.81" y1="34.8" x2="1306.81" y2="43.3" stroke="#000" stroke-width="1.9" />
<line x1="1389.02" y1="429.2" x2="1389.02" y2="437.7" stroke="#000" stroke-width="1.9" />
<line x1="1389.02" y1="34.8" x2="1389.02" y2="43.3" stroke="#000" stroke-width="1.9" />
<line x1="1471.23" y1="429.2" x2="1471.23" y2="437.7" stroke="#000" stroke-width="1.9" />
<line x1="1471.23" y1="34.8" x2="1471.23" y2="43.3" stroke="#000" stroke-width="1.9" />
<line x1="1183.49" y1="429.2" x2="1183.49" y2="433.7" stroke="#000" stroke-width="1.9" />
<line x1="1183.49" y1="34.8" x2="1183.49" y2="39.3" stroke="#000" stroke-width="1.9" />
<line x1="1265.7" y1="429.2" x2="1265.7" y2="433.7" stroke="#000" stroke-width="1.9" />
<line x1="1265.7" y1="34.8" x2="1265.7" y2="39.3" stroke="#000" stroke-width="1.9" />
<line x1="1347.91" y1="429.2" x2="1347.91" y2="433.7" stroke="#000" stroke-width="1.9" />
<line x1="1347.91" y1="34.8" x2="1347.91" y2="39.3" stroke="#000" stroke-width="1.9" />
<line x1="1430.12" y1="429.2" x2="1430.12" y2="433.7" stroke="#000" stroke-width="1.9" />
<line x1="1430.12" y1="34.8" x2="1430.12" y2="39.3" stroke="#000" stroke-width="1.9" />
<line x1="1512.34" y1="429.2" x2="1512.34" y2="433.7" stroke="#000" stroke-width="1.9" />
<line x1="1512.34" y1="34.8" x2="1512.34" y2="39.3" stroke="#000" stroke-width="1.9" />
<line x1="1109.5" y1="429.2" x2="1101" y2="429.2" stroke="#000" stroke-width="1.9" />
<line x1="1537" y1="429.2" x2="1528.5" y2="429.2" stroke="#000" stroke-width="1.9" />
<line x1="1109.5" y1="281.3" x2="1101" y2="281.3" stroke="#000" stroke-width="1.9" />
<line x1="1537" y1="281.3" x2="1528.5" y2="281.3" stroke="#000" stroke-width="1.9" />
<line x1="1109.5" y1="133.4" x2="1101" y2="133.4" stroke="#000" stroke-width="1.9" />
<line x1="1537" y1="133.4" x2="1528.5" y2="133.4" stroke="#000" stroke-width="1.9" />
<line x1="1109.5" y1="355.25" x2="1105" y2="355.25" stroke="#000" stroke-width="1.9" />
<line x1="1537" y1="355.25" x2="1532.5" y2="355.25" stroke="#000" stroke-width="1.9" />
<line x1="1109.5" y1="207.35" x2="1105" y2="207.35" stroke="#000" stroke-width="1.9" />
<line x1="1537" y1="207.35" x2="1532.5" y2="207.35" stroke="#000" stroke-width="1.9" />
<line x1="1109.5" y1="59.45" x2="1105" y2="59.45" stroke="#000" stroke-width="1.9" />
<line x1="1537" y1="59.45" x2="1532.5" y2="59.45" stroke="#000" stroke-width="1.9" />
<text x="1142.38" y="469.7" font-size="32.7" text-anchor="middle" fill="#000" >50</text>
<text x="1224.6" y="469.7" font-size="32.7" text-anchor="middle" fill="#000" >100</text>
<text x="1306.81" y="469.7" font-size="32.7" text-anchor="middle" fill="#000" >150</text>
<text x="1389.02" y="469.7" font-size="32.7" text-anchor="middle" fill="#000" >200</text>
<text x="1471.23" y="469.7" font-size="32.7" text-anchor="middle" fill="#000" >250</text>
<text x="1094.2" y="440" font-size="32.5" text-anchor="end" fill="#000" >0.0</text>
<text x="1094.2" y="292.1" font-size="32.5" text-anchor="end" fill="#000" >0.3</text>
<text x="1094.2" y="144.2" font-size="32.5" text-anchor="end" fill="#000" >0.6</text>
<text x="1323" y="505" font-size="32" text-anchor="middle"><tspan font-style="italic">T</tspan> (K)</text>
<text transform="translate(1022.8,231.3) rotate(-90)" font-size="32" text-anchor="middle"><tspan font-style="italic">ρ</tspan> (mΩcm)</text>
<text x="1473.7" y="70.1" font-size="39" text-anchor="start" fill="#000" >(b)</text>
<text x="1527.6" y="366.2" font-size="32" font-weight="bold" text-anchor="end"><tspan font-style="italic">d</tspan> = 50 nm</text>
<text x="1379.9" y="412.8" font-size="32" font-style="italic">p</text><text x="1408.3" y="412.8" font-size="32">≈</text><text x="1437.7" y="412.8" font-size="32">0.125</text>
<g font-weight="bold" fill="#a60000">
<text x="1133" y="342" font-size="32" font-style="italic">T</text>
<text x="1156" y="328.8" font-size="17.5">on</text>
<text x="1150.5" y="350.2" font-size="17.5">c</text>
</g>
<g font-weight="bold" fill="#2a7bbd">
<text x="1368.2" y="113.5" font-size="32.5" font-style="italic">T</text>
<text x="1392" y="101.3" font-size="17.5">a</text>
<text x="1387.5" y="122.7" font-size="17.5">L</text>
<text x="1405.3" y="114.6" font-size="32">≈</text>
<text x="1426.6" y="113.5" font-size="32.5" font-style="italic">T</text>
<text x="1444.4" y="110.1" font-size="32" font-style="italic">*</text>
</g>
<g font-weight="bold" fill="#f781bf">
<text x="1444.5" y="244.7" font-size="32" font-style="italic">T</text>
<text x="1468.5" y="232" font-size="17.5">b</text>
<text x="1464" y="252.8" font-size="17.5">L</text>
</g>
<rect x="1121.2" y="48.8" width="154.8" height="153.1" fill="#fff"/>
<g clip-path="url(#clipib)">
<path d="M1121.2,199 C1121.83,198.5 1123.37,198.17 1125,196 C1126.63,193.83 1128.5,191.17 1131,186 C1133.5,180.83 1137.17,171.67 1140,165 C1142.83,158.33 1145.5,151.67 1148,146 C1150.5,140.33 1152.67,135.17 1155,131 C1157.33,126.83 1159.5,123.75 1162,121 C1164.5,118.25 1167,116.33 1170,114.5 C1173,112.67 1175.83,111.42 1180,110 C1184.17,108.58 1189.17,107.42 1195,106 C1200.83,104.58 1207.5,103.17 1215,101.5 C1222.5,99.83 1232.5,97.58 1240,96 C1247.5,94.42 1253.92,93.25 1260,92 C1266.08,90.75 1273.75,89.08 1276.5,88.5" fill="none" stroke="#f781bf" stroke-width="5.7"/>
<path d="M1121.2,201 C1121.83,200.5 1123.37,200.33 1125,198 C1126.63,195.67 1128.5,192.25 1131,187 C1133.5,181.75 1137.17,173 1140,166.5 C1142.83,160 1145.5,153.42 1148,148 C1150.5,142.58 1152.67,137.83 1155,134 C1157.33,130.17 1159.5,127.58 1162,125 C1164.5,122.42 1167,120.5 1170,118.5 C1173,116.5 1175.83,114.75 1180,113 C1184.17,111.25 1189.17,109.83 1195,108 C1200.83,106.17 1207.5,104.25 1215,102 C1222.5,99.75 1232.5,96.83 1240,94.5 C1247.5,92.17 1253.92,90 1260,88 C1266.08,86 1273.75,83.42 1276.5,82.5" fill="none" stroke="#0d70bf" stroke-width="5.7"/>
<line x1="1127.5" y1="201.9" x2="1173.5" y2="96.5" stroke="#000" stroke-width="3.4" stroke-dasharray="11.6 6.2"/>
<line x1="1131.5" y1="130.5" x2="1276.5" y2="83.5" stroke="#000" stroke-width="3.4" stroke-dasharray="11.6 6.2"/>
</g>
<rect x="1158.7" y="121.8" width="12" height="12" fill="#fff" stroke="#a60000" stroke-width="2"/>
<rect x="1121.2" y="48.8" width="154.8" height="153.1" fill="none" stroke="#000" stroke-width="1.9"/>
<line x1="1140.55" y1="201.9" x2="1140.55" y2="210.4" stroke="#000" stroke-width="1.9" />
<line x1="1140.55" y1="48.8" x2="1140.55" y2="57.3" stroke="#000" stroke-width="1.9" />
<line x1="1198.6" y1="201.9" x2="1198.6" y2="210.4" stroke="#000" stroke-width="1.9" />
<line x1="1198.6" y1="48.8" x2="1198.6" y2="57.3" stroke="#000" stroke-width="1.9" />
<line x1="1256.65" y1="201.9" x2="1256.65" y2="210.4" stroke="#000" stroke-width="1.9" />
<line x1="1256.65" y1="48.8" x2="1256.65" y2="57.3" stroke="#000" stroke-width="1.9" />
<line x1="1121.2" y1="201.9" x2="1121.2" y2="206.4" stroke="#000" stroke-width="1.9" />
<line x1="1121.2" y1="48.8" x2="1121.2" y2="53.3" stroke="#000" stroke-width="1.9" />
<line x1="1159.9" y1="201.9" x2="1159.9" y2="206.4" stroke="#000" stroke-width="1.9" />
<line x1="1159.9" y1="48.8" x2="1159.9" y2="53.3" stroke="#000" stroke-width="1.9" />
<line x1="1179.25" y1="201.9" x2="1179.25" y2="206.4" stroke="#000" stroke-width="1.9" />
<line x1="1179.25" y1="48.8" x2="1179.25" y2="53.3" stroke="#000" stroke-width="1.9" />
<line x1="1217.95" y1="201.9" x2="1217.95" y2="206.4" stroke="#000" stroke-width="1.9" />
<line x1="1217.95" y1="48.8" x2="1217.95" y2="53.3" stroke="#000" stroke-width="1.9" />
<line x1="1237.3" y1="201.9" x2="1237.3" y2="206.4" stroke="#000" stroke-width="1.9" />
<line x1="1237.3" y1="48.8" x2="1237.3" y2="53.3" stroke="#000" stroke-width="1.9" />
<line x1="1276" y1="201.9" x2="1276" y2="206.4" stroke="#000" stroke-width="1.9" />
<line x1="1276" y1="48.8" x2="1276" y2="53.3" stroke="#000" stroke-width="1.9" />
<text x="1140.55" y="237.7" font-size="27.5" text-anchor="middle" fill="#000" >60</text>
<text x="1198.6" y="237.7" font-size="27.5" text-anchor="middle" fill="#000" >75</text>
<text x="1256.65" y="237.7" font-size="27.5" text-anchor="middle" fill="#000" >90</text>
<g font-weight="bold" fill="#a60000">
<text x="1130" y="82.9" font-size="27" font-style="italic">T</text>
<text x="1149.5" y="71.9" font-size="15">on</text>
<text x="1144.5" y="90.7" font-size="15">c</text>
<text x="1175.2" y="82.9" font-size="27">= 66 K</text>
</g>
<g clip-path="url(#clipc)">
<path d="M1663.39,428.2 V290.1 H1729.12 V428.2" fill="none" stroke="#bdbdbd" stroke-width="1.9" stroke-dasharray="13 9"/>
<line x1="1663.39" y1="427.7" x2="1729.12" y2="427.7" stroke="#bdbdbd" stroke-width="1.9" stroke-dasharray="13 9"/>
<line x1="1663.39" y1="290.1" x2="1633.4" y2="197.4" stroke="#bdbdbd" stroke-width="1.9" stroke-dasharray="13 9"/>
<line x1="1729.12" y1="290.1" x2="1787.6" y2="197.4" stroke="#bdbdbd" stroke-width="1.9" stroke-dasharray="13 9"/>
<path d="M1634.44,428.57 C1639.53,428.57 1659.15,429.19 1664.99,428.57 C1670.83,427.96 1667.77,427.45 1669.47,424.91 C1671.17,422.36 1673.2,417.95 1675.17,413.3 C1677.14,408.65 1678.91,404.13 1681.28,397.01 C1683.66,389.88 1686.71,379.02 1689.43,370.53 C1692.15,362.04 1695.13,352.88 1697.58,346.09 C1700.02,339.3 1701.89,334.04 1704.09,329.8 C1706.3,325.55 1708.51,322.57 1710.81,320.63 C1713.12,318.7 1715.06,318.49 1717.94,318.19 C1720.83,317.88 1724.05,318.49 1728.13,318.8 C1732.2,319.1 1737.63,319.71 1742.38,320.02 C1747.14,320.33 1750.53,320.67 1756.64,320.63 C1762.75,320.6 1771.24,320.39 1779.04,319.82 C1786.85,319.24 1795.51,318.12 1803.48,317.17 C1811.46,316.22 1817.74,315.44 1826.9,314.11 C1836.07,312.79 1847.95,310.86 1858.47,309.23 C1869,307.6 1871.45,307.24 1890.04,304.34 C1908.63,301.43 1943.37,295.97 1970,291.8 C1996.63,287.63 2036.5,281.38 2049.8,279.3" fill="none" stroke="#f781bf" stroke-width="5.7" stroke-linejoin="round"/>
<path d="M1634.44,428.57 C1639.87,428.57 1660.92,429.19 1667.03,428.57 C1673.14,427.96 1669.4,427.45 1671.1,424.91 C1672.8,422.36 1675.17,417.95 1677.21,413.3 C1679.25,408.65 1680.94,404.13 1683.32,397.01 C1685.7,389.88 1688.75,379.02 1691.47,370.53 C1694.18,362.04 1697.24,352.88 1699.61,346.09 C1701.99,339.3 1703.35,335.06 1705.72,329.8 C1708.1,324.53 1711.32,318.59 1713.87,314.52 C1716.42,310.45 1718.55,308.24 1721,305.36 C1723.44,302.47 1725.37,300.54 1728.53,297.21 C1731.7,293.88 1735.26,289.9 1740,285.4 C1744.74,280.9 1751.18,275.28 1757,270.2 C1762.82,265.12 1769.07,259.87 1774.9,254.9 C1780.73,249.93 1786.18,245.23 1792,240.4 C1797.82,235.57 1803.97,230.63 1809.8,225.9 C1815.63,221.17 1821.18,216.58 1827,212 C1832.82,207.42 1838.7,203.02 1844.7,198.4 C1850.7,193.78 1856.8,188.93 1863,184.3 C1869.2,179.67 1873.73,176.15 1881.9,170.6 C1890.07,165.05 1901.92,157.22 1912,151 C1922.08,144.78 1927.73,141.88 1942.4,133.3 C1957.07,124.72 1982.1,109.78 2000,99.5 C2017.9,89.22 2041.5,76.25 2049.8,71.6" fill="none" stroke="#0d70bf" stroke-width="5.7" stroke-linejoin="round"/>
<line x1="1779" y1="228.5" x2="2049.8" y2="71.6" stroke="#000" stroke-width="3.4" stroke-dasharray="11.6 6.2"/>
<line x1="1778.4" y1="321.6" x2="2049.8" y2="279.3" stroke="#000" stroke-width="3.4" stroke-dasharray="11.6 6.2"/>
</g>
<rect x="1700.1" y="322.8" width="12" height="12" fill="#fff" stroke="#a60000" stroke-width="2"/>
<polygon points="1942.4,124.3 1951.4,133.3 1942.4,142.3 1933.4,133.3" fill="#fff" stroke="#4466b0" stroke-width="2.4"/>
<circle cx="1826.9" cy="314.1" r="6.6" fill="#fff" stroke="#f781bf" stroke-width="2.4"/>
<rect x="1622.3" y="34.8" width="427.3" height="394.4" fill="none" stroke="#000" stroke-width="1.9"/>
<line x1="1655.17" y1="429.2" x2="1655.17" y2="437.7" stroke="#000" stroke-width="1.9" />
<line x1="1655.17" y1="34.8" x2="1655.17" y2="43.3" stroke="#000" stroke-width="1.9" />
<line x1="1737.34" y1="429.2" x2="1737.34" y2="437.7" stroke="#000" stroke-width="1.9" />
<line x1="1737.34" y1="34.8" x2="1737.34" y2="43.3" stroke="#000" stroke-width="1.9" />
<line x1="1819.52" y1="429.2" x2="1819.52" y2="437.7" stroke="#000" stroke-width="1.9" />
<line x1="1819.52" y1="34.8" x2="1819.52" y2="43.3" stroke="#000" stroke-width="1.9" />
<line x1="1901.69" y1="429.2" x2="1901.69" y2="437.7" stroke="#000" stroke-width="1.9" />
<line x1="1901.69" y1="34.8" x2="1901.69" y2="43.3" stroke="#000" stroke-width="1.9" />
<line x1="1983.86" y1="429.2" x2="1983.86" y2="437.7" stroke="#000" stroke-width="1.9" />
<line x1="1983.86" y1="34.8" x2="1983.86" y2="43.3" stroke="#000" stroke-width="1.9" />
<line x1="1696.26" y1="429.2" x2="1696.26" y2="433.7" stroke="#000" stroke-width="1.9" />
<line x1="1696.26" y1="34.8" x2="1696.26" y2="39.3" stroke="#000" stroke-width="1.9" />
<line x1="1778.43" y1="429.2" x2="1778.43" y2="433.7" stroke="#000" stroke-width="1.9" />
<line x1="1778.43" y1="34.8" x2="1778.43" y2="39.3" stroke="#000" stroke-width="1.9" />
<line x1="1860.6" y1="429.2" x2="1860.6" y2="433.7" stroke="#000" stroke-width="1.9" />
<line x1="1860.6" y1="34.8" x2="1860.6" y2="39.3" stroke="#000" stroke-width="1.9" />
<line x1="1942.77" y1="429.2" x2="1942.77" y2="433.7" stroke="#000" stroke-width="1.9" />
<line x1="1942.77" y1="34.8" x2="1942.77" y2="39.3" stroke="#000" stroke-width="1.9" />
<line x1="2024.95" y1="429.2" x2="2024.95" y2="433.7" stroke="#000" stroke-width="1.9" />
<line x1="2024.95" y1="34.8" x2="2024.95" y2="39.3" stroke="#000" stroke-width="1.9" />
<line x1="1622.3" y1="429.2" x2="1613.8" y2="429.2" stroke="#000" stroke-width="1.9" />
<line x1="2049.6" y1="429.2" x2="2041.1" y2="429.2" stroke="#000" stroke-width="1.9" />
<line x1="1622.3" y1="339.56" x2="1613.8" y2="339.56" stroke="#000" stroke-width="1.9" />
<line x1="2049.6" y1="339.56" x2="2041.1" y2="339.56" stroke="#000" stroke-width="1.9" />
<line x1="1622.3" y1="249.93" x2="1613.8" y2="249.93" stroke="#000" stroke-width="1.9" />
<line x1="2049.6" y1="249.93" x2="2041.1" y2="249.93" stroke="#000" stroke-width="1.9" />
<line x1="1622.3" y1="160.29" x2="1613.8" y2="160.29" stroke="#000" stroke-width="1.9" />
<line x1="2049.6" y1="160.29" x2="2041.1" y2="160.29" stroke="#000" stroke-width="1.9" />
<line x1="1622.3" y1="70.65" x2="1613.8" y2="70.65" stroke="#000" stroke-width="1.9" />
<line x1="2049.6" y1="70.65" x2="2041.1" y2="70.65" stroke="#000" stroke-width="1.9" />
<line x1="1622.3" y1="384.38" x2="1617.8" y2="384.38" stroke="#000" stroke-width="1.9" />
<line x1="2049.6" y1="384.38" x2="2045.1" y2="384.38" stroke="#000" stroke-width="1.9" />
<line x1="1622.3" y1="294.75" x2="1617.8" y2="294.75" stroke="#000" stroke-width="1.9" />
<line x1="2049.6" y1="294.75" x2="2045.1" y2="294.75" stroke="#000" stroke-width="1.9" />
<line x1="1622.3" y1="205.11" x2="1617.8" y2="205.11" stroke="#000" stroke-width="1.9" />
<line x1="2049.6" y1="205.11" x2="2045.1" y2="205.11" stroke="#000" stroke-width="1.9" />
<line x1="1622.3" y1="115.47" x2="1617.8" y2="115.47" stroke="#000" stroke-width="1.9" />
<line x1="2049.6" y1="115.47" x2="2045.1" y2="115.47" stroke="#000" stroke-width="1.9" />
<text x="1655.17" y="469.7" font-size="32.7" text-anchor="middle" fill="#000" >50</text>
<text x="1737.34" y="469.7" font-size="32.7" text-anchor="middle" fill="#000" >100</text>
<text x="1819.52" y="469.7" font-size="32.7" text-anchor="middle" fill="#000" >150</text>
<text x="1901.69" y="469.7" font-size="32.7" text-anchor="middle" fill="#000" >200</text>
<text x="1983.86" y="469.7" font-size="32.7" text-anchor="middle" fill="#000" >250</text>
<text x="1605.8" y="440" font-size="32.5" text-anchor="end" fill="#000" >0.0</text>
<text x="1605.8" y="350.36" font-size="32.5" text-anchor="end" fill="#000" >0.5</text>
<text x="1605.8" y="260.73" font-size="32.5" text-anchor="end" fill="#000" >1.0</text>
<text x="1605.8" y="171.09" font-size="32.5" text-anchor="end" fill="#000" >1.5</text>
<text x="1605.8" y="81.45" font-size="32.5" text-anchor="end" fill="#000" >2.0</text>
<text x="1836" y="505" font-size="32" text-anchor="middle"><tspan font-style="italic">T</tspan> (K)</text>
<text x="1988.5" y="70.1" font-size="39" text-anchor="start" fill="#000" >(c)</text>
<text x="2040.4" y="366.2" font-size="32" font-weight="bold" text-anchor="end"><tspan font-style="italic">d</tspan> = 10 nm</text>
<text x="1892.7" y="412.8" font-size="32" font-style="italic">p</text><text x="1921.1" y="412.8" font-size="32">≈</text><text x="1950.5" y="412.8" font-size="32">0.125</text>
<g font-weight="bold" fill="#a60000">
<text x="1659.3" y="323.7" font-size="32" font-style="italic">T</text>
<text x="1682.3" y="309.8" font-size="17.5">on</text>
<text x="1676.5" y="331.8" font-size="17.5">c</text>
</g>
<g font-weight="bold" fill="#2a7bbd">
<text x="1866.8" y="116.6" font-size="32.5" font-style="italic">T</text>
<text x="1890.6" y="104.4" font-size="17.5">a</text>
<text x="1886.1" y="125.3" font-size="17.5">L</text>
<text x="1903.9" y="117.7" font-size="32">≈</text>
<text x="1925.2" y="116.6" font-size="32.5" font-style="italic">T</text>
<text x="1943" y="113.2" font-size="32" font-style="italic">*</text>
</g>
<g font-weight="bold" fill="#f781bf">
<text x="1806" y="292.1" font-size="32" font-style="italic">T</text>
<text x="1829.5" y="278.9" font-size="17.5">b</text>
<text x="1824" y="300.3" font-size="17.5">L</text>
</g>
<rect x="1633.4" y="51.4" width="154.2" height="146" fill="#fff"/>
<g clip-path="url(#clipic)">
<path d="M1633.42,195.38 C1635.29,195.24 1641.23,195.31 1644.62,194.56 C1648.02,193.82 1650.39,193.03 1653.79,190.9 C1657.18,188.76 1660.41,185.97 1664.99,181.73 C1669.57,177.49 1675.17,171.89 1681.28,165.44 C1687.39,158.99 1695.2,149.82 1701.65,143.03 C1708.1,136.25 1714.55,129.8 1719.98,124.7 C1725.41,119.61 1729.48,115.88 1734.24,112.48 C1738.99,109.09 1743.4,106.78 1748.49,104.34 C1753.58,101.89 1760.03,99.52 1764.79,97.82 C1769.54,96.12 1773.1,95.27 1777.01,94.15 C1780.91,93.03 1786.34,91.61 1788.21,91.1" fill="none" stroke="#f781bf" stroke-width="5.7"/>
<path d="M1633.42,196.19 C1635.29,196.09 1641.23,196.36 1644.62,195.58 C1648.02,194.8 1650.39,193.99 1653.79,191.51 C1657.18,189.03 1660.41,185.74 1664.99,180.71 C1669.57,175.69 1675.17,168.32 1681.28,161.36 C1687.39,154.41 1695.2,145.75 1701.65,138.96 C1708.1,132.17 1714.89,125.04 1719.98,120.63 C1725.07,116.22 1728.47,114.42 1732.2,112.48 C1735.93,110.55 1738.99,109.84 1742.38,109.02 C1745.78,108.21 1748.15,107.9 1752.57,107.6 C1756.98,107.29 1762.92,107.09 1768.86,107.19 C1774.8,107.29 1784.98,108.04 1788.21,108.21" fill="none" stroke="#0d70bf" stroke-width="5.7"/>
<line x1="1653.18" y1="197.41" x2="1746.05" y2="89.47" stroke="#000" stroke-width="3.4" stroke-dasharray="11.6 6.2"/>
<line x1="1697.58" y1="105.56" x2="1788.21" y2="107.6" stroke="#000" stroke-width="3.4" stroke-dasharray="11.6 6.2"/>
</g>
<rect x="1728.64" y="109.95" width="12" height="12" fill="#fff" stroke="#a60000" stroke-width="2"/>
<rect x="1633.4" y="51.4" width="154.2" height="146" fill="none" stroke="#000" stroke-width="1.9"/>
<line x1="1652.68" y1="197.4" x2="1652.68" y2="205.9" stroke="#000" stroke-width="1.9" />
<line x1="1652.68" y1="51.4" x2="1652.68" y2="59.9" stroke="#000" stroke-width="1.9" />
<line x1="1710.5" y1="197.4" x2="1710.5" y2="205.9" stroke="#000" stroke-width="1.9" />
<line x1="1710.5" y1="51.4" x2="1710.5" y2="59.9" stroke="#000" stroke-width="1.9" />
<line x1="1768.32" y1="197.4" x2="1768.32" y2="205.9" stroke="#000" stroke-width="1.9" />
<line x1="1768.32" y1="51.4" x2="1768.32" y2="59.9" stroke="#000" stroke-width="1.9" />
<line x1="1633.4" y1="197.4" x2="1633.4" y2="201.9" stroke="#000" stroke-width="1.9" />
<line x1="1633.4" y1="51.4" x2="1633.4" y2="55.9" stroke="#000" stroke-width="1.9" />
<line x1="1671.95" y1="197.4" x2="1671.95" y2="201.9" stroke="#000" stroke-width="1.9" />
<line x1="1671.95" y1="51.4" x2="1671.95" y2="55.9" stroke="#000" stroke-width="1.9" />
<line x1="1691.22" y1="197.4" x2="1691.22" y2="201.9" stroke="#000" stroke-width="1.9" />
<line x1="1691.22" y1="51.4" x2="1691.22" y2="55.9" stroke="#000" stroke-width="1.9" />
<line x1="1729.78" y1="197.4" x2="1729.78" y2="201.9" stroke="#000" stroke-width="1.9" />
<line x1="1729.78" y1="51.4" x2="1729.78" y2="55.9" stroke="#000" stroke-width="1.9" />
<line x1="1749.05" y1="197.4" x2="1749.05" y2="201.9" stroke="#000" stroke-width="1.9" />
<line x1="1749.05" y1="51.4" x2="1749.05" y2="55.9" stroke="#000" stroke-width="1.9" />
<line x1="1787.6" y1="197.4" x2="1787.6" y2="201.9" stroke="#000" stroke-width="1.9" />
<line x1="1787.6" y1="51.4" x2="1787.6" y2="55.9" stroke="#000" stroke-width="1.9" />
<text x="1652.68" y="234.2" font-size="27.5" text-anchor="middle" fill="#000" >60</text>
<text x="1710.5" y="234.2" font-size="27.5" text-anchor="middle" fill="#000" >75</text>
<text x="1768.32" y="234.2" font-size="27.5" text-anchor="middle" fill="#000" >90</text>
<g font-weight="bold" fill="#a60000">
<text x="1643.6" y="85.5" font-size="27" font-style="italic">T</text>
<text x="1663" y="74.5" font-size="15">on</text>
<text x="1658" y="93.3" font-size="15">c</text>
<text x="1689" y="85.5" font-size="27">= 81 K</text>
</g>
<g clip-path="url(#clipd)">
<polygon points="1113.98,891.31 1129.98,891.31 1121.98,905.31" fill="none" stroke="#74a3d4" stroke-width="2" stroke-linejoin="miter"/>
<polygon points="1144.27,883.42 1160.27,883.42 1152.27,897.42" fill="none" stroke="#74a3d4" stroke-width="2" stroke-linejoin="miter"/>
<polygon points="1175.64,866.99 1191.64,866.99 1183.64,880.99" fill="none" stroke="#74a3d4" stroke-width="2" stroke-linejoin="miter"/>
<polygon points="1204.65,875.52 1220.65,875.52 1212.65,889.52" fill="none" stroke="#74a3d4" stroke-width="2" stroke-linejoin="miter"/>
<polygon points="1235.38,885.55 1251.38,885.55 1243.38,899.55" fill="none" stroke="#74a3d4" stroke-width="2" stroke-linejoin="miter"/>
<polygon points="1249.88,855.68 1265.88,855.68 1257.88,869.68" fill="none" stroke="#74a3d4" stroke-width="2" stroke-linejoin="miter"/>
<polygon points="1264.39,853.55 1280.39,853.55 1272.39,867.55" fill="none" stroke="#74a3d4" stroke-width="2" stroke-linejoin="miter"/>
<polygon points="1278.05,855.04 1294.05,855.04 1286.05,869.04" fill="none" stroke="#74a3d4" stroke-width="2" stroke-linejoin="miter"/>
<polygon points="1219.59,916.91 1235.59,916.91 1227.59,930.91" fill="none" stroke="#74a3d4" stroke-width="2" stroke-linejoin="miter"/>
<polygon points="1293.62,769.7 1309.62,769.7 1301.62,783.7" fill="none" stroke="#74a3d4" stroke-width="2" stroke-linejoin="miter"/>
<polygon points="1307.06,741.53 1323.06,741.53 1315.06,755.53" fill="none" stroke="#74a3d4" stroke-width="2" stroke-linejoin="miter"/>
<polygon points="1362.14,766.07 1378.14,766.07 1370.14,780.07" fill="none" stroke="#74a3d4" stroke-width="2" stroke-linejoin="miter"/>
<polygon points="1387.31,810.87 1403.31,810.87 1395.31,824.87" fill="none" stroke="#74a3d4" stroke-width="2" stroke-linejoin="miter"/>
<polygon points="1375.37,826.24 1391.37,826.24 1383.37,840.24" fill="none" stroke="#74a3d4" stroke-width="2" stroke-linejoin="miter"/>
<polygon points="1401.18,843.95 1417.18,843.95 1409.18,857.95" fill="none" stroke="#74a3d4" stroke-width="2" stroke-linejoin="miter"/>
<polygon points="1413.34,842.88 1429.34,842.88 1421.34,856.88" fill="none" stroke="#74a3d4" stroke-width="2" stroke-linejoin="miter"/>
<polygon points="1427.21,849.71 1443.21,849.71 1435.21,863.71" fill="none" stroke="#74a3d4" stroke-width="2" stroke-linejoin="miter"/>
<polygon points="1438.95,867.84 1454.95,867.84 1446.95,881.84" fill="none" stroke="#74a3d4" stroke-width="2" stroke-linejoin="miter"/>
<polygon points="1462.84,870.19 1478.84,870.19 1470.84,884.19" fill="none" stroke="#74a3d4" stroke-width="2" stroke-linejoin="miter"/>
<polygon points="1486.95,864.21 1502.95,864.21 1494.95,878.21" fill="none" stroke="#74a3d4" stroke-width="2" stroke-linejoin="miter"/>
<polygon points="1508.93,876.38 1524.93,876.38 1516.93,890.38" fill="none" stroke="#74a3d4" stroke-width="2" stroke-linejoin="miter"/>
<polygon points="1450.68,893.66 1466.68,893.66 1458.68,907.66" fill="none" stroke="#74a3d4" stroke-width="2" stroke-linejoin="miter"/>
<polygon points="1530.05,859.95 1546.05,859.95 1538.05,873.95" fill="none" stroke="#74a3d4" stroke-width="2" stroke-linejoin="miter"/>
<polygon points="1334.68,582.5 1350.68,582.5 1342.68,596.5" fill="none" stroke="#74a3d4" stroke-width="2" stroke-linejoin="miter"/>
<polygon points="1320.81,622.61 1336.81,622.61 1328.81,636.61" fill="none" stroke="#74a3d4" stroke-width="2" stroke-linejoin="miter"/>
<polygon points="1348.55,671.68 1364.55,671.68 1356.55,685.68" fill="none" stroke="#74a3d4" stroke-width="2" stroke-linejoin="miter"/>
<polygon points="1127.31,895.49 1133.63,899.14 1133.63,906.44 1127.31,910.09 1120.99,906.44 1120.99,899.14" fill="none" stroke="#f781bf" stroke-width="2" stroke-linejoin="miter"/>
<polygon points="1158.03,879.49 1164.35,883.14 1164.35,890.44 1158.03,894.09 1151.71,890.44 1151.71,883.14" fill="none" stroke="#f781bf" stroke-width="2" stroke-linejoin="miter"/>
<polygon points="1187.05,875.22 1193.37,878.87 1193.37,886.17 1187.05,889.82 1180.73,886.17 1180.73,878.87" fill="none" stroke="#f781bf" stroke-width="2" stroke-linejoin="miter"/>
<polygon points="1217.99,830.84 1224.31,834.49 1224.31,841.79 1217.99,845.44 1211.66,841.79 1211.66,834.49" fill="none" stroke="#f781bf" stroke-width="2" stroke-linejoin="miter"/>
<polygon points="1246.58,872.45 1252.9,876.1 1252.9,883.4 1246.58,887.05 1240.25,883.4 1240.25,876.1" fill="none" stroke="#f781bf" stroke-width="2" stroke-linejoin="miter"/>
<polygon points="1232.92,910.85 1239.24,914.5 1239.24,921.8 1232.92,925.45 1226.6,921.8 1226.6,914.5" fill="none" stroke="#f781bf" stroke-width="2" stroke-linejoin="miter"/>
<polygon points="1262.15,896.98 1268.47,900.63 1268.47,907.93 1262.15,911.58 1255.83,907.93 1255.83,900.63" fill="none" stroke="#f781bf" stroke-width="2" stroke-linejoin="miter"/>
<polygon points="1275.59,829.78 1281.91,833.43 1281.91,840.73 1275.59,844.38 1269.27,840.73 1269.27,833.43" fill="none" stroke="#f781bf" stroke-width="2" stroke-linejoin="miter"/>
<polygon points="1291.17,885.89 1297.49,889.54 1297.49,896.84 1291.17,900.49 1284.85,896.84 1284.85,889.54" fill="none" stroke="#f781bf" stroke-width="2" stroke-linejoin="miter"/>
<polygon points="1304.82,816.55 1311.14,820.2 1311.14,827.5 1304.82,831.15 1298.5,827.5 1298.5,820.2" fill="none" stroke="#f781bf" stroke-width="2" stroke-linejoin="miter"/>
<polygon points="1318.26,838.95 1324.59,842.6 1324.59,849.9 1318.26,853.55 1311.94,849.9 1311.94,842.6" fill="none" stroke="#f781bf" stroke-width="2" stroke-linejoin="miter"/>
<polygon points="1332.16,828.07 1338.48,831.72 1338.48,839.02 1332.16,842.67 1325.84,839.02 1325.84,831.72" fill="none" stroke="#f781bf" stroke-width="2" stroke-linejoin="miter"/>
<polygon points="1346.03,833.4 1352.35,837.05 1352.35,844.35 1346.03,848 1339.71,844.35 1339.71,837.05" fill="none" stroke="#f781bf" stroke-width="2" stroke-linejoin="miter"/>
<polygon points="1359.47,851.54 1365.79,855.19 1365.79,862.49 1359.47,866.14 1353.15,862.49 1353.15,855.19" fill="none" stroke="#f781bf" stroke-width="2" stroke-linejoin="miter"/>
<polygon points="1372.91,779 1379.23,782.65 1379.23,789.95 1372.91,793.6 1366.59,789.95 1366.59,782.65" fill="none" stroke="#f781bf" stroke-width="2" stroke-linejoin="miter"/>
<polygon points="1386.78,850.05 1393.1,853.7 1393.1,861 1386.78,864.65 1380.46,861 1380.46,853.7" fill="none" stroke="#f781bf" stroke-width="2" stroke-linejoin="miter"/>
<polygon points="1400.65,858.58 1406.97,862.23 1406.97,869.53 1400.65,873.18 1394.33,869.53 1394.33,862.23" fill="none" stroke="#f781bf" stroke-width="2" stroke-linejoin="miter"/>
<polygon points="1412.38,856.45 1418.71,860.1 1418.71,867.4 1412.38,871.05 1406.06,867.4 1406.06,860.1" fill="none" stroke="#f781bf" stroke-width="2" stroke-linejoin="miter"/>
<polygon points="1437.99,882.48 1444.31,886.13 1444.31,893.43 1437.99,897.08 1431.66,893.43 1431.66,886.13" fill="none" stroke="#f781bf" stroke-width="2" stroke-linejoin="miter"/>
<polygon points="1450.15,870.74 1456.47,874.39 1456.47,881.69 1450.15,885.34 1443.83,881.69 1443.83,874.39" fill="none" stroke="#f781bf" stroke-width="2" stroke-linejoin="miter"/>
<polygon points="1474.04,859.65 1480.37,863.3 1480.37,870.6 1474.04,874.25 1467.72,870.6 1467.72,863.3" fill="none" stroke="#f781bf" stroke-width="2" stroke-linejoin="miter"/>
<polygon points="1497.73,864.98 1504.05,868.63 1504.05,875.93 1497.73,879.58 1491.4,875.93 1491.4,868.63" fill="none" stroke="#f781bf" stroke-width="2" stroke-linejoin="miter"/>
<polygon points="1462.31,909.15 1468.63,912.8 1468.63,920.1 1462.31,923.75 1455.99,920.1 1455.99,912.8" fill="none" stroke="#f781bf" stroke-width="2" stroke-linejoin="miter"/>
<polygon points="1424.54,916.83 1430.87,920.48 1430.87,927.78 1424.54,931.43 1418.22,927.78 1418.22,920.48" fill="none" stroke="#f781bf" stroke-width="2" stroke-linejoin="miter"/>
<polygon points="1520.13,917.89 1526.45,921.54 1526.45,928.84 1520.13,932.49 1513.81,928.84 1513.81,921.54" fill="none" stroke="#f781bf" stroke-width="2" stroke-linejoin="miter"/>
<polygon points="1538.48,894.21 1544.8,897.86 1544.8,905.16 1538.48,908.81 1532.15,905.16 1532.15,897.86" fill="none" stroke="#f781bf" stroke-width="2" stroke-linejoin="miter"/>
<polyline points="1110,885.6 1111.78,885.52 1113.56,885.44 1115.34,885.36 1117.12,885.27 1118.9,885.18 1120.68,885.09 1122.47,885 1124.25,884.9 1126.03,884.81 1127.81,884.71 1129.59,884.61 1131.37,884.5 1133.15,884.4 1134.93,884.29 1136.71,884.17 1138.49,884.06 1140.27,883.94 1142.06,883.82 1143.84,883.69 1145.62,883.57 1147.4,883.43 1149.18,883.3 1150.96,883.16 1152.74,883.02 1154.52,882.87 1156.3,882.72 1158.08,882.57 1159.86,882.41 1161.64,882.24 1163.42,882.08 1165.21,881.9 1166.99,881.72 1168.77,881.54 1170.55,881.35 1172.33,881.15 1174.11,880.95 1175.89,880.74 1177.67,880.53 1179.45,880.31 1181.23,880.08 1183.01,879.84 1184.8,879.6 1186.58,879.35 1188.36,879.09 1190.14,878.82 1191.92,878.54 1193.7,878.26 1195.48,877.96 1197.26,877.65 1199.04,877.33 1200.82,877 1202.6,876.66 1204.38,876.3 1206.16,875.93 1207.95,875.55 1209.73,875.15 1211.51,874.74 1213.29,874.31 1215.07,873.86 1216.85,873.4 1218.63,872.92 1220.41,872.41 1222.19,871.89 1223.97,871.34 1225.75,870.77 1227.54,870.18 1229.32,869.56 1231.1,868.91 1232.88,868.23 1234.66,867.52 1236.44,866.78 1238.22,866.01 1240,865.19 1241.78,864.34 1243.56,863.45 1245.34,862.51 1247.12,861.52 1248.9,860.48 1250.69,859.39 1252.47,858.24 1254.25,857.04 1256.03,855.76 1257.81,854.41 1259.59,852.99 1261.37,851.49 1263.15,849.91 1264.93,848.23 1266.71,846.45 1268.49,844.56 1270.28,842.56 1272.06,840.43 1273.84,838.17 1275.62,835.77 1277.4,833.21 1279.18,830.49 1280.96,827.58 1282.74,824.48 1284.52,821.17 1286.3,817.63 1288.08,813.84 1289.86,809.79 1291.64,805.46 1293.43,800.82 1295.21,795.84 1296.99,790.51 1298.77,784.8 1300.55,778.68 1302.33,772.13 1304.11,765.13 1305.89,757.64 1307.67,749.66 1309.45,741.16 1311.23,732.14 1313.01,722.61 1314.8,712.57 1316.58,702.06 1318.36,691.13 1320.14,679.86 1321.92,668.37 1323.7,656.78 1325.48,645.28 1327.26,634.09 1329.04,623.44 1330.82,613.6 1332.6,604.87 1334.39,597.5 1336.17,591.78 1337.95,587.89 1339.73,586.01 1341.51,586.2 1343.29,588.46 1345.07,592.7 1346.85,598.74 1348.63,606.38 1350.41,615.34 1352.19,625.35 1353.97,636.12 1355.76,647.38 1357.54,658.91 1359.32,670.49 1361.1,681.96 1362.88,693.17 1364.66,704.02 1366.44,714.45 1368.22,724.4 1370,733.84 1371.78,742.76 1373.56,751.17 1375.34,759.06 1377.12,766.45 1378.91,773.37 1380.69,779.84 1382.47,785.88 1384.25,791.52 1386.03,796.78 1387.81,801.69 1389.59,806.28 1391.37,810.56 1393.15,814.56 1394.93,818.3 1396.71,821.79 1398.5,825.07 1400.28,828.13 1402.06,831 1403.84,833.7 1405.62,836.22 1407.4,838.6 1409.18,840.83 1410.96,842.94 1412.74,844.92 1414.52,846.78 1416.3,848.54 1418.08,850.21 1419.87,851.78 1421.65,853.26 1423.43,854.67 1425.21,856 1426.99,857.26 1428.77,858.46 1430.55,859.6 1432.33,860.68 1434.11,861.71 1435.89,862.68 1437.67,863.61 1439.45,864.5 1441.24,865.34 1443.02,866.15 1444.8,866.92 1446.58,867.66 1448.36,868.36 1450.14,869.03 1451.92,869.67 1453.7,870.29 1455.48,870.88 1457.26,871.44 1459.04,871.99 1460.82,872.51 1462.61,873.01 1464.39,873.49 1466.17,873.95 1467.95,874.39 1469.73,874.82 1471.51,875.23 1473.29,875.62 1475.07,876 1476.85,876.37 1478.63,876.72 1480.41,877.06 1482.19,877.39 1483.98,877.71 1485.76,878.01 1487.54,878.31 1489.32,878.59 1491.1,878.87 1492.88,879.14 1494.66,879.4 1496.44,879.65 1498.22,879.89 1500,880.12 1501.78,880.35 1503.56,880.57 1505.35,880.78 1507.13,880.99 1508.91,881.19 1510.69,881.38 1512.47,881.57 1514.25,881.76 1516.03,881.93 1517.81,882.11 1519.59,882.27 1521.37,882.44 1523.15,882.6 1524.93,882.75 1526.72,882.9 1528.5,883.04 1530.28,883.19 1532.06,883.32 1533.84,883.46 1535.62,883.59 1537.4,883.72" fill="none" stroke="#74a3d4" stroke-width="3" stroke-linejoin="round"/>
<polyline points="1110,884.72 1111.78,884.66 1113.56,884.6 1115.34,884.53 1117.12,884.47 1118.9,884.4 1120.68,884.33 1122.47,884.26 1124.25,884.19 1126.03,884.12 1127.81,884.05 1129.59,883.97 1131.37,883.9 1133.15,883.82 1134.93,883.74 1136.71,883.66 1138.49,883.57 1140.27,883.49 1142.06,883.4 1143.84,883.31 1145.62,883.22 1147.4,883.13 1149.18,883.04 1150.96,882.94 1152.74,882.84 1154.52,882.74 1156.3,882.63 1158.08,882.53 1159.86,882.42 1161.64,882.31 1163.42,882.2 1165.21,882.08 1166.99,881.96 1168.77,881.84 1170.55,881.71 1172.33,881.59 1174.11,881.46 1175.89,881.32 1177.67,881.19 1179.45,881.05 1181.23,880.9 1183.01,880.75 1184.8,880.6 1186.58,880.45 1188.36,880.29 1190.14,880.13 1191.92,879.96 1193.7,879.79 1195.48,879.62 1197.26,879.44 1199.04,879.25 1200.82,879.07 1202.6,878.87 1204.38,878.67 1206.16,878.47 1207.95,878.26 1209.73,878.05 1211.51,877.83 1213.29,877.6 1215.07,877.37 1216.85,877.14 1218.63,876.89 1220.41,876.64 1222.19,876.39 1223.97,876.13 1225.75,875.86 1227.54,875.58 1229.32,875.3 1231.1,875.01 1232.88,874.71 1234.66,874.4 1236.44,874.09 1238.22,873.77 1240,873.44 1241.78,873.1 1243.56,872.76 1245.34,872.4 1247.12,872.04 1248.9,871.66 1250.69,871.28 1252.47,870.89 1254.25,870.49 1256.03,870.08 1257.81,869.67 1259.59,869.24 1261.37,868.8 1263.15,868.36 1264.93,867.9 1266.71,867.44 1268.49,866.97 1270.28,866.48 1272.06,865.99 1273.84,865.49 1275.62,864.99 1277.4,864.47 1279.18,863.95 1280.96,863.42 1282.74,862.89 1284.52,862.35 1286.3,861.8 1288.08,861.26 1289.86,860.7 1291.64,860.15 1293.43,859.6 1295.21,859.04 1296.99,858.49 1298.77,857.94 1300.55,857.39 1302.33,856.85 1304.11,856.31 1305.89,855.79 1307.67,855.27 1309.45,854.77 1311.23,854.28 1313.01,853.8 1314.8,853.34 1316.58,852.91 1318.36,852.49 1320.14,852.1 1321.92,851.73 1323.7,851.39 1325.48,851.08 1327.26,850.79 1329.04,850.54 1330.82,850.32 1332.6,850.14 1334.39,849.99 1336.17,849.88 1337.95,849.8 1339.73,849.76 1341.51,849.75 1343.29,849.79 1345.07,849.86 1346.85,849.96 1348.63,850.11 1350.41,850.28 1352.19,850.5 1353.97,850.74 1355.76,851.02 1357.54,851.32 1359.32,851.66 1361.1,852.02 1362.88,852.41 1364.66,852.82 1366.44,853.25 1368.22,853.71 1370,854.18 1371.78,854.67 1373.56,855.17 1375.34,855.68 1377.12,856.21 1378.91,856.74 1380.69,857.28 1382.47,857.83 1384.25,858.38 1386.03,858.93 1387.81,859.48 1389.59,860.04 1391.37,860.59 1393.15,861.15 1394.93,861.7 1396.71,862.24 1398.5,862.78 1400.28,863.32 1402.06,863.85 1403.84,864.37 1405.62,864.89 1407.4,865.39 1409.18,865.89 1410.96,866.39 1412.74,866.87 1414.52,867.34 1416.3,867.81 1418.08,868.27 1419.87,868.71 1421.65,869.15 1423.43,869.58 1425.21,870 1426.99,870.41 1428.77,870.81 1430.55,871.21 1432.33,871.59 1434.11,871.96 1435.89,872.33 1437.67,872.68 1439.45,873.03 1441.24,873.37 1443.02,873.7 1444.8,874.03 1446.58,874.34 1448.36,874.65 1450.14,874.95 1451.92,875.24 1453.7,875.52 1455.48,875.8 1457.26,876.07 1459.04,876.34 1460.82,876.59 1462.61,876.84 1464.39,877.09 1466.17,877.33 1467.95,877.56 1469.73,877.78 1471.51,878 1473.29,878.22 1475.07,878.43 1476.85,878.63 1478.63,878.83 1480.41,879.03 1482.19,879.22 1483.98,879.4 1485.76,879.58 1487.54,879.76 1489.32,879.93 1491.1,880.1 1492.88,880.26 1494.66,880.42 1496.44,880.57 1498.22,880.72 1500,880.87 1501.78,881.02 1503.56,881.16 1505.35,881.3 1507.13,881.43 1508.91,881.56 1510.69,881.69 1512.47,881.81 1514.25,881.94 1516.03,882.06 1517.81,882.17 1519.59,882.29 1521.37,882.4 1523.15,882.51 1524.93,882.61 1526.72,882.72 1528.5,882.82 1530.28,882.92 1532.06,883.02 1533.84,883.11 1535.62,883.21 1537.4,883.3" fill="none" stroke="#f781bf" stroke-width="3.6" stroke-linejoin="round"/>
</g>
<rect x="1110" y="553.2" width="427.4" height="393.9" fill="none" stroke="#000" stroke-width="1.9"/>
<line x1="1152.74" y1="947.1" x2="1152.74" y2="938.6" stroke="#000" stroke-width="1.9" />
<line x1="1152.74" y1="553.2" x2="1152.74" y2="561.7" stroke="#000" stroke-width="1.9" />
<line x1="1323.7" y1="947.1" x2="1323.7" y2="938.6" stroke="#000" stroke-width="1.9" />
<line x1="1323.7" y1="553.2" x2="1323.7" y2="561.7" stroke="#000" stroke-width="1.9" />
<line x1="1494.66" y1="947.1" x2="1494.66" y2="938.6" stroke="#000" stroke-width="1.9" />
<line x1="1494.66" y1="553.2" x2="1494.66" y2="561.7" stroke="#000" stroke-width="1.9" />
<line x1="1238.22" y1="947.1" x2="1238.22" y2="942.6" stroke="#000" stroke-width="1.9" />
<line x1="1238.22" y1="553.2" x2="1238.22" y2="557.7" stroke="#000" stroke-width="1.9" />
<line x1="1409.18" y1="947.1" x2="1409.18" y2="942.6" stroke="#000" stroke-width="1.9" />
<line x1="1409.18" y1="553.2" x2="1409.18" y2="557.7" stroke="#000" stroke-width="1.9" />
<line x1="1110" y1="890.83" x2="1118.5" y2="890.83" stroke="#000" stroke-width="1.9" />
<line x1="1537.4" y1="890.83" x2="1528.9" y2="890.83" stroke="#000" stroke-width="1.9" />
<line x1="1110" y1="778.29" x2="1118.5" y2="778.29" stroke="#000" stroke-width="1.9" />
<line x1="1537.4" y1="778.29" x2="1528.9" y2="778.29" stroke="#000" stroke-width="1.9" />
<line x1="1110" y1="665.74" x2="1118.5" y2="665.74" stroke="#000" stroke-width="1.9" />
<line x1="1537.4" y1="665.74" x2="1528.9" y2="665.74" stroke="#000" stroke-width="1.9" />
<line x1="1110" y1="553.2" x2="1118.5" y2="553.2" stroke="#000" stroke-width="1.9" />
<line x1="1537.4" y1="553.2" x2="1528.9" y2="553.2" stroke="#000" stroke-width="1.9" />
<line x1="1110" y1="834.56" x2="1114.5" y2="834.56" stroke="#000" stroke-width="1.9" />
<line x1="1537.4" y1="834.56" x2="1532.9" y2="834.56" stroke="#000" stroke-width="1.9" />
<line x1="1110" y1="722.01" x2="1114.5" y2="722.01" stroke="#000" stroke-width="1.9" />
<line x1="1537.4" y1="722.01" x2="1532.9" y2="722.01" stroke="#000" stroke-width="1.9" />
<line x1="1110" y1="609.47" x2="1114.5" y2="609.47" stroke="#000" stroke-width="1.9" />
<line x1="1537.4" y1="609.47" x2="1532.9" y2="609.47" stroke="#000" stroke-width="1.9" />
<text x="1152.74" y="982.3" font-size="32" text-anchor="middle" fill="#000" >0.2</text>
<text x="1323.7" y="982.3" font-size="32" text-anchor="middle" fill="#000" >0.3</text>
<text x="1494.66" y="982.3" font-size="32" text-anchor="middle" fill="#000" >0.4</text>
<text x="1099.2" y="901.63" font-size="32.5" text-anchor="end" fill="#000" >0.00</text>
<text x="1099.2" y="789.09" font-size="32.5" text-anchor="end" fill="#000" >0.02</text>
<text x="1099.2" y="676.54" font-size="32.5" text-anchor="end" fill="#000" >0.04</text>
<text x="1099.2" y="564" font-size="32.5" text-anchor="end" fill="#000" >0.06</text>
<text x="1323.5" y="1023.3" font-size="32" text-anchor="middle"><tspan font-style="italic">H</tspan> (r.l.u.)</text>
<text transform="translate(1023,753.2) rotate(-90)" font-size="32.3" text-anchor="middle">Quasi elastic intensity (arb. units)</text>
<text x="1473.5" y="590.8" font-size="39" text-anchor="start" fill="#000" >(d)</text>
<text x="1136" y="609.3" font-size="32" font-style="italic">p</text><text x="1164.4" y="609.3" font-size="32">≈</text><text x="1193.8" y="609.3" font-size="32">0.125</text>
<text x="1137.6" y="650.5" font-size="32" font-style="italic">T</text><text x="1164.8" y="650.5" font-size="32">=</text><text x="1191.3" y="650.5" font-size="32">70 K</text>
<text x="1135" y="691.9" font-size="32" font-weight="bold"><tspan font-style="italic">a</tspan>-axis</text>
<g clip-path="url(#clipe)">
<polygon points="1823.5,692.7 1839.5,692.7 1831.5,706.7" fill="none" stroke="#74a3d4" stroke-width="2" stroke-linejoin="miter"/>
<polygon points="1809,704 1825,704 1817,718" fill="none" stroke="#74a3d4" stroke-width="2" stroke-linejoin="miter"/>
<polygon points="1794,715.1 1810,715.1 1802,729.1" fill="none" stroke="#74a3d4" stroke-width="2" stroke-linejoin="miter"/>
<polygon points="1780.8,760.6 1796.8,760.6 1788.8,774.6" fill="none" stroke="#74a3d4" stroke-width="2" stroke-linejoin="miter"/>
<polygon points="1766.7,788.7 1782.7,788.7 1774.7,802.7" fill="none" stroke="#74a3d4" stroke-width="2" stroke-linejoin="miter"/>
<polygon points="1753.1,796.9 1769.1,796.9 1761.1,810.9" fill="none" stroke="#74a3d4" stroke-width="2" stroke-linejoin="miter"/>
<polygon points="1739.6,819.7 1755.6,819.7 1747.6,833.7" fill="none" stroke="#74a3d4" stroke-width="2" stroke-linejoin="miter"/>
<polygon points="1710.8,826.1 1726.8,826.1 1718.8,840.1" fill="none" stroke="#74a3d4" stroke-width="2" stroke-linejoin="miter"/>
<polygon points="1683.5,832.8 1699.5,832.8 1691.5,846.8" fill="none" stroke="#74a3d4" stroke-width="2" stroke-linejoin="miter"/>
<polygon points="1836.9,720.5 1852.9,720.5 1844.9,734.5" fill="none" stroke="#74a3d4" stroke-width="2" stroke-linejoin="miter"/>
<polygon points="1851,734.3 1867,734.3 1859,748.3" fill="none" stroke="#74a3d4" stroke-width="2" stroke-linejoin="miter"/>
<polygon points="1865.3,735.4 1881.3,735.4 1873.3,749.4" fill="none" stroke="#74a3d4" stroke-width="2" stroke-linejoin="miter"/>
<polygon points="1877.6,782.3 1893.6,782.3 1885.6,796.3" fill="none" stroke="#74a3d4" stroke-width="2" stroke-linejoin="miter"/>
<polygon points="1907.9,805.4 1923.9,805.4 1915.9,819.4" fill="none" stroke="#74a3d4" stroke-width="2" stroke-linejoin="miter"/>
<polygon points="1891.5,817.7 1907.5,817.7 1899.5,831.7" fill="none" stroke="#74a3d4" stroke-width="2" stroke-linejoin="miter"/>
<polygon points="1934.2,809.7 1950.2,809.7 1942.2,823.7" fill="none" stroke="#74a3d4" stroke-width="2" stroke-linejoin="miter"/>
<polygon points="1961.7,803 1977.7,803 1969.7,817" fill="none" stroke="#74a3d4" stroke-width="2" stroke-linejoin="miter"/>
<polygon points="1975.2,844.3 1991.2,844.3 1983.2,858.3" fill="none" stroke="#74a3d4" stroke-width="2" stroke-linejoin="miter"/>
<polygon points="1918.6,816.5 1934.6,816.5 1926.6,830.5" fill="none" stroke="#74a3d4" stroke-width="2" stroke-linejoin="miter"/>
<polygon points="2015.7,846.8 2031.7,846.8 2023.7,860.8" fill="none" stroke="#74a3d4" stroke-width="2" stroke-linejoin="miter"/>
<polygon points="1628.7,865.9 1644.7,865.9 1636.7,879.9" fill="none" stroke="#74a3d4" stroke-width="2" stroke-linejoin="miter"/>
<polygon points="1656,908.5 1672,908.5 1664,922.5" fill="none" stroke="#74a3d4" stroke-width="2" stroke-linejoin="miter"/>
<polygon points="1947.8,860.1 1963.8,860.1 1955.8,874.1" fill="none" stroke="#74a3d4" stroke-width="2" stroke-linejoin="miter"/>
<polygon points="1989,876.5 2005,876.5 1997,890.5" fill="none" stroke="#74a3d4" stroke-width="2" stroke-linejoin="miter"/>
<polygon points="2040.2,895.7 2056.2,895.7 2048.2,909.7" fill="none" stroke="#74a3d4" stroke-width="2" stroke-linejoin="miter"/>
<polygon points="1822.5,668.3 1828.82,671.95 1828.82,679.25 1822.5,682.9 1816.18,679.25 1816.18,671.95" fill="none" stroke="#f781bf" stroke-width="2" stroke-linejoin="miter"/>
<polygon points="1782.4,724.4 1788.72,728.05 1788.72,735.35 1782.4,739 1776.08,735.35 1776.08,728.05" fill="none" stroke="#f781bf" stroke-width="2" stroke-linejoin="miter"/>
<polygon points="1796.7,734 1803.02,737.65 1803.02,744.95 1796.7,748.6 1790.38,744.95 1790.38,737.65" fill="none" stroke="#f781bf" stroke-width="2" stroke-linejoin="miter"/>
<polygon points="1810.1,752.8 1816.42,756.45 1816.42,763.75 1810.1,767.4 1803.78,763.75 1803.78,756.45" fill="none" stroke="#f781bf" stroke-width="2" stroke-linejoin="miter"/>
<polygon points="1730.1,783.1 1736.42,786.75 1736.42,794.05 1730.1,797.7 1723.78,794.05 1723.78,786.75" fill="none" stroke="#f781bf" stroke-width="2" stroke-linejoin="miter"/>
<polygon points="1769,801.7 1775.32,805.35 1775.32,812.65 1769,816.3 1762.68,812.65 1762.68,805.35" fill="none" stroke="#f781bf" stroke-width="2" stroke-linejoin="miter"/>
<polygon points="1702.4,815.5 1708.72,819.15 1708.72,826.45 1702.4,830.1 1696.08,826.45 1696.08,819.15" fill="none" stroke="#f781bf" stroke-width="2" stroke-linejoin="miter"/>
<polygon points="1676.8,828.6 1683.12,832.25 1683.12,839.55 1676.8,843.2 1670.48,839.55 1670.48,832.25" fill="none" stroke="#f781bf" stroke-width="2" stroke-linejoin="miter"/>
<polygon points="1741.6,840.1 1747.92,843.75 1747.92,851.05 1741.6,854.7 1735.28,851.05 1735.28,843.75" fill="none" stroke="#f781bf" stroke-width="2" stroke-linejoin="miter"/>
<polygon points="1755.7,851.4 1762.02,855.05 1762.02,862.35 1755.7,866 1749.38,862.35 1749.38,855.05" fill="none" stroke="#f781bf" stroke-width="2" stroke-linejoin="miter"/>
<polygon points="1835.3,706.3 1841.62,709.95 1841.62,717.25 1835.3,720.9 1828.98,717.25 1828.98,709.95" fill="none" stroke="#f781bf" stroke-width="2" stroke-linejoin="miter"/>
<polygon points="1849.4,685 1855.72,688.65 1855.72,695.95 1849.4,699.6 1843.08,695.95 1843.08,688.65" fill="none" stroke="#f781bf" stroke-width="2" stroke-linejoin="miter"/>
<polygon points="1876.9,728.1 1883.22,731.75 1883.22,739.05 1876.9,742.7 1870.58,739.05 1870.58,731.75" fill="none" stroke="#f781bf" stroke-width="2" stroke-linejoin="miter"/>
<polygon points="1863.2,757.5 1869.52,761.15 1869.52,768.45 1863.2,772.1 1856.88,768.45 1856.88,761.15" fill="none" stroke="#f781bf" stroke-width="2" stroke-linejoin="miter"/>
<polygon points="1890.3,752.8 1896.62,756.45 1896.62,763.75 1890.3,767.4 1883.98,763.75 1883.98,756.45" fill="none" stroke="#f781bf" stroke-width="2" stroke-linejoin="miter"/>
<polygon points="1904.2,757.9 1910.52,761.55 1910.52,768.85 1904.2,772.5 1897.88,768.85 1897.88,761.55" fill="none" stroke="#f781bf" stroke-width="2" stroke-linejoin="miter"/>
<polygon points="1929.4,811.3 1935.72,814.95 1935.72,822.25 1929.4,825.9 1923.08,822.25 1923.08,814.95" fill="none" stroke="#f781bf" stroke-width="2" stroke-linejoin="miter"/>
<polygon points="1956.9,836.1 1963.22,839.75 1963.22,847.05 1956.9,850.7 1950.58,847.05 1950.58,839.75" fill="none" stroke="#f781bf" stroke-width="2" stroke-linejoin="miter"/>
<polygon points="2010.2,837.1 2016.52,840.75 2016.52,848.05 2010.2,851.7 2003.88,848.05 2003.88,840.75" fill="none" stroke="#f781bf" stroke-width="2" stroke-linejoin="miter"/>
<polygon points="2035.4,845.5 2041.72,849.15 2041.72,856.45 2035.4,860.1 2029.08,856.45 2029.08,849.15" fill="none" stroke="#f781bf" stroke-width="2" stroke-linejoin="miter"/>
<polygon points="1982.8,852.4 1989.12,856.05 1989.12,863.35 1982.8,867 1976.48,863.35 1976.48,856.05" fill="none" stroke="#f781bf" stroke-width="2" stroke-linejoin="miter"/>
<polygon points="1624.9,879.4 1631.22,883.05 1631.22,890.35 1624.9,894 1618.58,890.35 1618.58,883.05" fill="none" stroke="#f781bf" stroke-width="2" stroke-linejoin="miter"/>
<polygon points="1649.5,879 1655.82,882.65 1655.82,889.95 1649.5,893.6 1643.18,889.95 1643.18,882.65" fill="none" stroke="#f781bf" stroke-width="2" stroke-linejoin="miter"/>
<polygon points="1916.4,873 1922.72,876.65 1922.72,883.95 1916.4,887.6 1910.08,883.95 1910.08,876.65" fill="none" stroke="#f781bf" stroke-width="2" stroke-linejoin="miter"/>
<polygon points="1943.3,879.9 1949.62,883.55 1949.62,890.85 1943.3,894.5 1936.98,890.85 1936.98,883.55" fill="none" stroke="#f781bf" stroke-width="2" stroke-linejoin="miter"/>
<polygon points="1970.3,857 1976.62,860.65 1976.62,867.95 1970.3,871.6 1963.98,867.95 1963.98,860.65" fill="none" stroke="#f781bf" stroke-width="2" stroke-linejoin="miter"/>
<polyline points="1622.5,874.47 1624.28,874.26 1626.06,874.03 1627.84,873.81 1629.62,873.58 1631.4,873.34 1633.18,873.09 1634.96,872.84 1636.74,872.59 1638.52,872.33 1640.3,872.06 1642.08,871.78 1643.87,871.5 1645.65,871.21 1647.43,870.91 1649.21,870.61 1650.99,870.3 1652.77,869.98 1654.55,869.65 1656.33,869.31 1658.11,868.96 1659.89,868.61 1661.67,868.24 1663.45,867.86 1665.23,867.48 1667.01,867.08 1668.79,866.67 1670.57,866.25 1672.35,865.82 1674.13,865.38 1675.91,864.92 1677.69,864.45 1679.47,863.97 1681.25,863.47 1683.03,862.96 1684.81,862.43 1686.6,861.89 1688.38,861.32 1690.16,860.75 1691.94,860.15 1693.72,859.54 1695.5,858.9 1697.28,858.25 1699.06,857.58 1700.84,856.88 1702.62,856.16 1704.4,855.42 1706.18,854.66 1707.96,853.87 1709.74,853.05 1711.52,852.2 1713.3,851.33 1715.08,850.43 1716.86,849.5 1718.64,848.53 1720.42,847.54 1722.2,846.5 1723.98,845.43 1725.76,844.33 1727.54,843.18 1729.33,842 1731.11,840.77 1732.89,839.5 1734.67,838.19 1736.45,836.82 1738.23,835.41 1740.01,833.95 1741.79,832.43 1743.57,830.86 1745.35,829.23 1747.13,827.54 1748.91,825.79 1750.69,823.98 1752.47,822.1 1754.25,820.16 1756.03,818.14 1757.81,816.05 1759.59,813.89 1761.37,811.66 1763.15,809.35 1764.93,806.95 1766.71,804.48 1768.49,801.93 1770.27,799.29 1772.06,796.57 1773.84,793.77 1775.62,790.89 1777.4,787.92 1779.18,784.87 1780.96,781.74 1782.74,778.54 1784.52,775.26 1786.3,771.92 1788.08,768.51 1789.86,765.05 1791.64,761.55 1793.42,758 1795.2,754.43 1796.98,750.85 1798.76,747.26 1800.54,743.69 1802.32,740.16 1804.1,736.67 1805.88,733.26 1807.66,729.94 1809.44,726.73 1811.22,723.66 1813,720.75 1814.79,718.02 1816.57,715.5 1818.35,713.21 1820.13,711.17 1821.91,709.4 1823.69,707.92 1825.47,706.74 1827.25,705.88 1829.03,705.34 1830.81,705.14 1832.59,705.26 1834.37,705.72 1836.15,706.51 1837.93,707.61 1839.71,709.02 1841.49,710.72 1843.27,712.7 1845.05,714.93 1846.83,717.4 1848.61,720.08 1850.39,722.95 1852.17,725.98 1853.95,729.16 1855.73,732.45 1857.52,735.85 1859.3,739.32 1861.08,742.84 1862.86,746.4 1864.64,749.99 1866.42,753.57 1868.2,757.15 1869.98,760.7 1871.76,764.21 1873.54,767.69 1875.32,771.11 1877.1,774.47 1878.88,777.76 1880.66,780.98 1882.44,784.13 1884.22,787.19 1886,790.18 1887.78,793.09 1889.56,795.91 1891.34,798.65 1893.12,801.3 1894.9,803.88 1896.68,806.37 1898.46,808.78 1900.25,811.11 1902.03,813.37 1903.81,815.54 1905.59,817.65 1907.37,819.68 1909.15,821.64 1910.93,823.53 1912.71,825.36 1914.49,827.13 1916.27,828.83 1918.05,830.47 1919.83,832.06 1921.61,833.59 1923.39,835.06 1925.17,836.49 1926.95,837.86 1928.73,839.19 1930.51,840.47 1932.29,841.71 1934.07,842.9 1935.85,844.06 1937.63,845.17 1939.41,846.25 1941.19,847.29 1942.98,848.3 1944.76,849.27 1946.54,850.21 1948.32,851.12 1950.1,852 1951.88,852.85 1953.66,853.67 1955.44,854.47 1957.22,855.24 1959,855.99 1960.78,856.71 1962.56,857.41 1964.34,858.09 1966.12,858.75 1967.9,859.39 1969.68,860.01 1971.46,860.61 1973.24,861.19 1975.02,861.75 1976.8,862.3 1978.58,862.83 1980.36,863.35 1982.14,863.85 1983.92,864.34 1985.71,864.81 1987.49,865.27 1989.27,865.72 1991.05,866.15 1992.83,866.57 1994.61,866.98 1996.39,867.38 1998.17,867.77 1999.95,868.15 2001.73,868.52 2003.51,868.88 2005.29,869.23 2007.07,869.57 2008.85,869.9 2010.63,870.22 2012.41,870.53 2014.19,870.84 2015.97,871.14 2017.75,871.43 2019.53,871.72 2021.31,871.99 2023.09,872.26 2024.87,872.53 2026.65,872.78 2028.44,873.03 2030.22,873.28 2032,873.52 2033.78,873.75 2035.56,873.98 2037.34,874.2 2039.12,874.42 2040.9,874.63 2042.68,874.84 2044.46,875.05 2046.24,875.24 2048.02,875.44 2049.8,875.63" fill="none" stroke="#74a3d4" stroke-width="3" stroke-linejoin="round"/>
<polyline points="1622.5,882.15 1624.28,881.9 1626.06,881.63 1627.84,881.36 1629.62,881.09 1631.4,880.8 1633.18,880.51 1634.96,880.22 1636.74,879.92 1638.52,879.6 1640.3,879.29 1642.08,878.96 1643.87,878.63 1645.65,878.29 1647.43,877.94 1649.21,877.58 1650.99,877.21 1652.77,876.83 1654.55,876.45 1656.33,876.05 1658.11,875.64 1659.89,875.23 1661.67,874.8 1663.45,874.36 1665.23,873.91 1667.01,873.44 1668.79,872.97 1670.57,872.48 1672.35,871.98 1674.13,871.46 1675.91,870.93 1677.69,870.39 1679.47,869.83 1681.25,869.25 1683.03,868.66 1684.81,868.05 1686.6,867.43 1688.38,866.78 1690.16,866.12 1691.94,865.44 1693.72,864.73 1695.5,864.01 1697.28,863.26 1699.06,862.5 1700.84,861.7 1702.62,860.89 1704.4,860.05 1706.18,859.18 1707.96,858.29 1709.74,857.37 1711.52,856.42 1713.3,855.44 1715.08,854.43 1716.86,853.39 1718.64,852.31 1720.42,851.2 1722.2,850.05 1723.98,848.87 1725.76,847.64 1727.54,846.38 1729.33,845.07 1731.11,843.72 1732.89,842.33 1734.67,840.89 1736.45,839.41 1738.23,837.87 1740.01,836.28 1741.79,834.64 1743.57,832.95 1745.35,831.2 1747.13,829.39 1748.91,827.52 1750.69,825.59 1752.47,823.59 1754.25,821.53 1756.03,819.4 1757.81,817.21 1759.59,814.94 1761.37,812.61 1763.15,810.2 1764.93,807.71 1766.71,805.16 1768.49,802.52 1770.27,799.81 1772.06,797.03 1773.84,794.17 1775.62,791.23 1777.4,788.22 1779.18,785.14 1780.96,781.99 1782.74,778.77 1784.52,775.49 1786.3,772.15 1788.08,768.75 1789.86,765.31 1791.64,761.82 1793.42,758.31 1795.2,754.77 1796.98,751.22 1798.76,747.67 1800.54,744.13 1802.32,740.61 1804.1,737.14 1805.88,733.73 1807.66,730.39 1809.44,727.14 1811.22,724.01 1813,721 1814.79,718.15 1816.57,715.47 1818.35,712.98 1820.13,710.69 1821.91,708.63 1823.69,706.82 1825.47,705.26 1827.25,703.98 1829.03,702.98 1830.81,702.27 1832.59,701.87 1834.37,701.76 1836.15,701.96 1837.93,702.46 1839.71,703.25 1841.49,704.34 1843.27,705.71 1845.05,707.34 1846.83,709.23 1848.61,711.36 1850.39,713.71 1852.17,716.27 1853.95,719 1855.73,721.9 1857.52,724.95 1859.3,728.12 1861.08,731.4 1862.86,734.76 1864.64,738.19 1866.42,741.68 1868.2,745.2 1869.98,748.75 1871.76,752.3 1873.54,755.85 1875.32,759.38 1877.1,762.89 1878.88,766.36 1880.66,769.79 1882.44,773.17 1884.22,776.49 1886,779.76 1887.78,782.96 1889.56,786.09 1891.34,789.15 1893.12,792.13 1894.9,795.05 1896.68,797.88 1898.46,800.65 1900.25,803.33 1902.03,805.94 1903.81,808.48 1905.59,810.94 1907.37,813.32 1909.15,815.64 1910.93,817.88 1912.71,820.06 1914.49,822.16 1916.27,824.2 1918.05,826.18 1919.83,828.09 1921.61,829.94 1923.39,831.73 1925.17,833.47 1926.95,835.15 1928.73,836.77 1930.51,838.34 1932.29,839.86 1934.07,841.34 1935.85,842.76 1937.63,844.14 1939.41,845.47 1941.19,846.77 1942.98,848.02 1944.76,849.23 1946.54,850.4 1948.32,851.54 1950.1,852.64 1951.88,853.71 1953.66,854.74 1955.44,855.74 1957.22,856.71 1959,857.65 1960.78,858.56 1962.56,859.45 1964.34,860.31 1966.12,861.14 1967.9,861.95 1969.68,862.73 1971.46,863.49 1973.24,864.23 1975.02,864.95 1976.8,865.64 1978.58,866.32 1980.36,866.98 1982.14,867.62 1983.92,868.24 1985.71,868.84 1987.49,869.43 1989.27,870 1991.05,870.55 1992.83,871.09 1994.61,871.62 1996.39,872.13 1998.17,872.63 1999.95,873.11 2001.73,873.59 2003.51,874.04 2005.29,874.49 2007.07,874.93 2008.85,875.35 2010.63,875.77 2012.41,876.17 2014.19,876.56 2015.97,876.95 2017.75,877.32 2019.53,877.69 2021.31,878.04 2023.09,878.39 2024.87,878.73 2026.65,879.06 2028.44,879.38 2030.22,879.7 2032,880.01 2033.78,880.31 2035.56,880.6 2037.34,880.89 2039.12,881.17 2040.9,881.45 2042.68,881.71 2044.46,881.98 2046.24,882.23 2048.02,882.48 2049.8,882.73" fill="none" stroke="#f781bf" stroke-width="3.6" stroke-linejoin="round"/>
</g>
<rect x="1622.5" y="553.2" width="427.3" height="393.9" fill="none" stroke="#000" stroke-width="1.9"/>
<line x1="1665.23" y1="947.1" x2="1665.23" y2="938.6" stroke="#000" stroke-width="1.9" />
<line x1="1665.23" y1="553.2" x2="1665.23" y2="561.7" stroke="#000" stroke-width="1.9" />
<line x1="1836.15" y1="947.1" x2="1836.15" y2="938.6" stroke="#000" stroke-width="1.9" />
<line x1="1836.15" y1="553.2" x2="1836.15" y2="561.7" stroke="#000" stroke-width="1.9" />
<line x1="2007.07" y1="947.1" x2="2007.07" y2="938.6" stroke="#000" stroke-width="1.9" />
<line x1="2007.07" y1="553.2" x2="2007.07" y2="561.7" stroke="#000" stroke-width="1.9" />
<line x1="1750.69" y1="947.1" x2="1750.69" y2="942.6" stroke="#000" stroke-width="1.9" />
<line x1="1750.69" y1="553.2" x2="1750.69" y2="557.7" stroke="#000" stroke-width="1.9" />
<line x1="1921.61" y1="947.1" x2="1921.61" y2="942.6" stroke="#000" stroke-width="1.9" />
<line x1="1921.61" y1="553.2" x2="1921.61" y2="557.7" stroke="#000" stroke-width="1.9" />
<line x1="1622.5" y1="890.83" x2="1631" y2="890.83" stroke="#000" stroke-width="1.9" />
<line x1="2049.8" y1="890.83" x2="2041.3" y2="890.83" stroke="#000" stroke-width="1.9" />
<line x1="1622.5" y1="778.29" x2="1631" y2="778.29" stroke="#000" stroke-width="1.9" />
<line x1="2049.8" y1="778.29" x2="2041.3" y2="778.29" stroke="#000" stroke-width="1.9" />
<line x1="1622.5" y1="665.74" x2="1631" y2="665.74" stroke="#000" stroke-width="1.9" />
<line x1="2049.8" y1="665.74" x2="2041.3" y2="665.74" stroke="#000" stroke-width="1.9" />
<line x1="1622.5" y1="553.2" x2="1631" y2="553.2" stroke="#000" stroke-width="1.9" />
<line x1="2049.8" y1="553.2" x2="2041.3" y2="553.2" stroke="#000" stroke-width="1.9" />
<line x1="1622.5" y1="834.56" x2="1627" y2="834.56" stroke="#000" stroke-width="1.9" />
<line x1="2049.8" y1="834.56" x2="2045.3" y2="834.56" stroke="#000" stroke-width="1.9" />
<line x1="1622.5" y1="722.01" x2="1627" y2="722.01" stroke="#000" stroke-width="1.9" />
<line x1="2049.8" y1="722.01" x2="2045.3" y2="722.01" stroke="#000" stroke-width="1.9" />
<line x1="1622.5" y1="609.47" x2="1627" y2="609.47" stroke="#000" stroke-width="1.9" />
<line x1="2049.8" y1="609.47" x2="2045.3" y2="609.47" stroke="#000" stroke-width="1.9" />
<text x="1663.73" y="982.3" font-size="32" text-anchor="middle" fill="#000" >−0.1</text>
<text x="1836.15" y="982.3" font-size="32" text-anchor="middle" fill="#000" >0.0</text>
<text x="2007.07" y="982.3" font-size="32" text-anchor="middle" fill="#000" >0.1</text>
<text x="1836" y="1023.3" font-size="32" text-anchor="middle"><tspan font-style="italic">H</tspan> (r.l.u.)</text>
<text x="1988" y="590.8" font-size="39" text-anchor="start" fill="#000" >(e)</text>
<text x="1648.5" y="609.3" font-size="32" font-style="italic">p</text><text x="1676.9" y="609.3" font-size="32">≈</text><text x="1706.3" y="609.3" font-size="32">0.125</text>
<text x="1650.1" y="650.5" font-size="32" font-style="italic">T</text><text x="1677.3" y="650.5" font-size="32">=</text><text x="1703.8" y="650.5" font-size="32">70 K</text>
<text x="1647.5" y="691.9" font-size="32" font-weight="bold"><tspan font-style="italic">b</tspan>-axis</text>
</g>
</svg>
</body></html>
